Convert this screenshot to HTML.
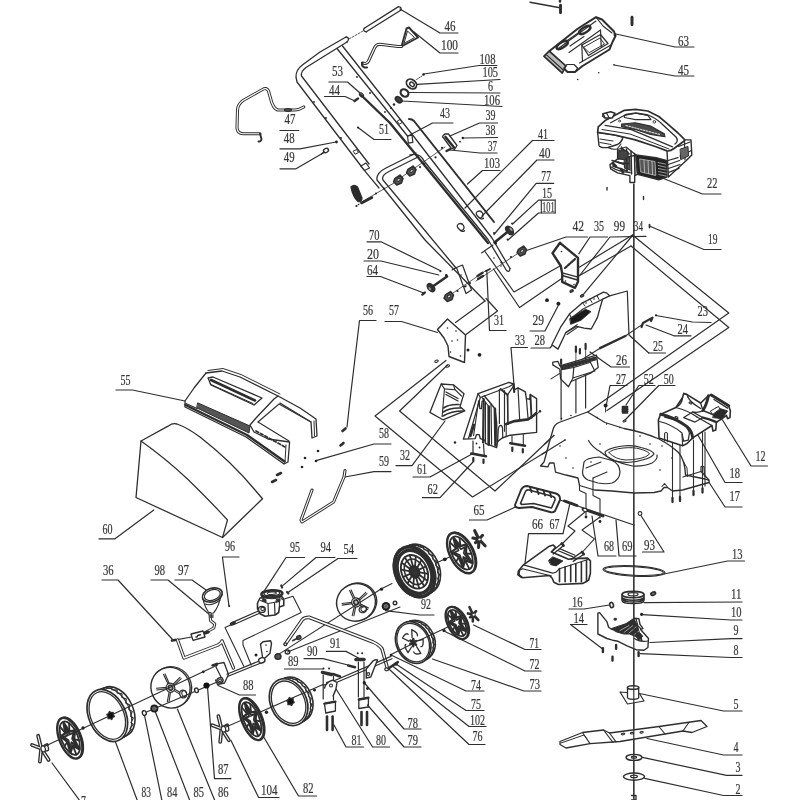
<!DOCTYPE html>
<html lang="en">
<head>
<meta charset="utf-8">
<title>Lawn mower exploded parts diagram</title>
<style>
html,body{margin:0;padding:0;background:#fff;}
body{width:800px;height:800px;overflow:hidden;}
svg{display:block;filter:blur(0.45px);}
svg text{font-family:"Liberation Serif",serif;font-size:14.8px;fill:#333;stroke:#333;stroke-width:0.2px;}
svg path,svg ellipse,svg circle{stroke-linecap:round;stroke-linejoin:round;}
</style>
</head>
<body>
<svg width="800" height="800" viewBox="0 0 800 800">
<rect x="0" y="0" width="800" height="800" fill="#ffffff"/>
<!-- parts_labels -->
<text x="444.5" y="30.5" textLength="11" lengthAdjust="spacingAndGlyphs">46</text>
<path d="M458,33 L440,33 L400,9" fill="none" stroke="#2e2e2e" stroke-width="1.2"/>
<text x="441" y="50" textLength="17" lengthAdjust="spacingAndGlyphs">100</text>
<path d="M458,53 L440,53 L414,32" fill="none" stroke="#2e2e2e" stroke-width="1.2"/>
<text x="479.5" y="64" textLength="16" lengthAdjust="spacingAndGlyphs">108</text>
<path d="M497,65.5 L479,65.5 L424,74" fill="none" stroke="#2e2e2e" stroke-width="1.2"/>
<text x="482.5" y="77" textLength="15.5" lengthAdjust="spacingAndGlyphs">105</text>
<path d="M500,79.5 L417,84.3" fill="none" stroke="#2e2e2e" stroke-width="1.2"/>
<text x="488" y="90.5" textLength="5" lengthAdjust="spacingAndGlyphs">6</text>
<path d="M500,93 L409,92.5" fill="none" stroke="#2e2e2e" stroke-width="1.2"/>
<text x="484" y="104.5" textLength="16" lengthAdjust="spacingAndGlyphs">106</text>
<path d="M502,106.5 L402,101" fill="none" stroke="#2e2e2e" stroke-width="1.2"/>
<text x="440" y="117.5" textLength="10" lengthAdjust="spacingAndGlyphs">43</text>
<path d="M453,123 L432.5,123 L408,136" fill="none" stroke="#2e2e2e" stroke-width="1.2"/>
<text x="485.5" y="120" textLength="10" lengthAdjust="spacingAndGlyphs">39</text>
<path d="M497.5,123 L479.5,123 L450,136" fill="none" stroke="#2e2e2e" stroke-width="1.2"/>
<text x="485.5" y="135" textLength="10" lengthAdjust="spacingAndGlyphs">38</text>
<path d="M497.5,137.5 L463,138" fill="none" stroke="#2e2e2e" stroke-width="1.2"/>
<text x="488" y="151" textLength="9" lengthAdjust="spacingAndGlyphs">37</text>
<path d="M497,153 L480,153 L450,150" fill="none" stroke="#2e2e2e" stroke-width="1.2"/>
<text x="484" y="168" textLength="16" lengthAdjust="spacingAndGlyphs">103</text>
<path d="M500,170.5 L482.5,170.5 L467.5,184" fill="none" stroke="#2e2e2e" stroke-width="1.2"/>
<text x="538" y="139" textLength="10" lengthAdjust="spacingAndGlyphs">41</text>
<path d="M554,140.5 L532.5,140.5 L465,208" fill="none" stroke="#2e2e2e" stroke-width="1.2"/>
<text x="539" y="158" textLength="11.5" lengthAdjust="spacingAndGlyphs">40</text>
<path d="M554,160 L537,160 L482,216" fill="none" stroke="#2e2e2e" stroke-width="1.2"/>
<text x="541.3" y="181" textLength="9.7" lengthAdjust="spacingAndGlyphs">77</text>
<path d="M553.7,183.3 L536.2,183.3 L494,234.5" fill="none" stroke="#2e2e2e" stroke-width="1.2"/>
<text x="541.9" y="198" textLength="10.1" lengthAdjust="spacingAndGlyphs">15</text>
<path d="M555.2,200.1 L538.5,200.1 L512.6,224" fill="none" stroke="#2e2e2e" stroke-width="1.2"/>
<text x="542" y="212.2" textLength="12.6" lengthAdjust="spacingAndGlyphs">101</text>
<path d="M555.2,213 L538.5,213 L508,240" fill="none" stroke="#2e2e2e" stroke-width="1.2"/>
<path d="M541.3,200.1 L541.3,213" fill="none" stroke="#2e2e2e" stroke-width="1.1"/>
<path d="M555.2,200.1 L555.2,213" fill="none" stroke="#2e2e2e" stroke-width="1.1"/>
<text x="678" y="46" textLength="11" lengthAdjust="spacingAndGlyphs">63</text>
<path d="M694,47 L675,47 L616,34" fill="none" stroke="#2e2e2e" stroke-width="1.2"/>
<text x="678" y="75" textLength="11" lengthAdjust="spacingAndGlyphs">45</text>
<path d="M694,76 L675,76 L614,65" fill="none" stroke="#2e2e2e" stroke-width="1.2"/>
<text x="707" y="187.5" textLength="10.5" lengthAdjust="spacingAndGlyphs">22</text>
<path d="M721,194 L702.5,194 L661,177.5" fill="none" stroke="#2e2e2e" stroke-width="1.2"/>
<text x="708" y="243.5" textLength="9.5" lengthAdjust="spacingAndGlyphs">19</text>
<path d="M721,249.5 L703.8,249.5 L649.5,226" fill="none" stroke="#2e2e2e" stroke-width="1.2"/>
<text x="572.5" y="230.5" textLength="11.5" lengthAdjust="spacingAndGlyphs">42</text>
<path d="M587.5,237 L566,237 L525,251" fill="none" stroke="#2e2e2e" stroke-width="1.2"/>
<text x="594" y="230.5" textLength="10" lengthAdjust="spacingAndGlyphs">35</text>
<path d="M607.5,237 L590,237 L578.8,253.8" fill="none" stroke="#2e2e2e" stroke-width="1.2"/>
<text x="613.8" y="230.5" textLength="11.2" lengthAdjust="spacingAndGlyphs">99</text>
<path d="M646,236.3 L610,237 L580,275" fill="none" stroke="#2e2e2e" stroke-width="1.2"/>
<text x="633.8" y="230.5" textLength="9.2" lengthAdjust="spacingAndGlyphs">34</text>
<path d="M632.5,235.5 L583.8,293.8" fill="none" stroke="#2e2e2e" stroke-width="1.2"/>
<text x="697.5" y="316" textLength="10.5" lengthAdjust="spacingAndGlyphs">23</text>
<path d="M711,322.5 L692.5,322 L656,315.5" fill="none" stroke="#2e2e2e" stroke-width="1.2"/>
<text x="677.5" y="333.5" textLength="10.5" lengthAdjust="spacingAndGlyphs">24</text>
<path d="M691,335.8 L673.8,335.8 L646,325" fill="none" stroke="#2e2e2e" stroke-width="1.2"/>
<text x="653" y="351" textLength="10" lengthAdjust="spacingAndGlyphs">25</text>
<path d="M665.5,353 L648.8,353" fill="none" stroke="#2e2e2e" stroke-width="1.2"/>
<text x="616" y="365" textLength="11" lengthAdjust="spacingAndGlyphs">26</text>
<path d="M629.5,367 L611,367 L590,352" fill="none" stroke="#2e2e2e" stroke-width="1.2"/>
<text x="616" y="383.5" textLength="10" lengthAdjust="spacingAndGlyphs">27</text>
<path d="M627,385.5 L610,385.5 L606.5,404" fill="none" stroke="#2e2e2e" stroke-width="1.2"/>
<text x="643.8" y="383.5" textLength="10" lengthAdjust="spacingAndGlyphs">52</text>
<path d="M655,385.5 L638.8,385.5 L626,405" fill="none" stroke="#2e2e2e" stroke-width="1.2"/>
<text x="663.8" y="383.5" textLength="10" lengthAdjust="spacingAndGlyphs">50</text>
<path d="M675,385.5 L658.8,385.5 L625,420" fill="none" stroke="#2e2e2e" stroke-width="1.2"/>
<text x="369" y="239.5" textLength="10.5" lengthAdjust="spacingAndGlyphs">70</text>
<path d="M367,241.8 L381,241.8 L441,271" fill="none" stroke="#2e2e2e" stroke-width="1.2"/>
<text x="367" y="258.8" textLength="12" lengthAdjust="spacingAndGlyphs">20</text>
<path d="M364,261 L381,261 L438.8,275" fill="none" stroke="#2e2e2e" stroke-width="1.2"/>
<text x="367" y="275" textLength="11" lengthAdjust="spacingAndGlyphs">64</text>
<path d="M367,276.5 L380.5,276.5 L423.8,293" fill="none" stroke="#2e2e2e" stroke-width="1.2"/>
<text x="363" y="315" textLength="10" lengthAdjust="spacingAndGlyphs">56</text>
<path d="M376,320.5 L359.5,320.5 L350,400 L347,427" fill="none" stroke="#2e2e2e" stroke-width="1.2"/>
<text x="389" y="315" textLength="10" lengthAdjust="spacingAndGlyphs">57</text>
<path d="M385,321.5 L401.5,321.5 L437.5,332.5" fill="none" stroke="#2e2e2e" stroke-width="1.2"/>
<text x="494" y="325" textLength="10" lengthAdjust="spacingAndGlyphs">31</text>
<path d="M506,330.5 L489.5,330.5 L486.8,271" fill="none" stroke="#2e2e2e" stroke-width="1.2"/>
<text x="532.5" y="325" textLength="11.5" lengthAdjust="spacingAndGlyphs">29</text>
<path d="M530,331 L545,331 L558,306" fill="none" stroke="#2e2e2e" stroke-width="1.2"/>
<text x="515" y="345" textLength="10" lengthAdjust="spacingAndGlyphs">33</text>
<path d="M527.5,347.5 L511,347.5 L514,385" fill="none" stroke="#2e2e2e" stroke-width="1.2"/>
<text x="534.5" y="345" textLength="10.5" lengthAdjust="spacingAndGlyphs">28</text>
<path d="M531,348 L550,348 L555,342" fill="none" stroke="#2e2e2e" stroke-width="1.2"/>
<text x="120.5" y="385" textLength="10" lengthAdjust="spacingAndGlyphs">55</text>
<path d="M116,390 L132.5,390 L185,401" fill="none" stroke="#2e2e2e" stroke-width="1.2"/>
<text x="102.5" y="533.8" textLength="10" lengthAdjust="spacingAndGlyphs">60</text>
<path d="M99,538.8 L115,538.8 L153.8,510" fill="none" stroke="#2e2e2e" stroke-width="1.2"/>
<text x="379" y="438" textLength="10" lengthAdjust="spacingAndGlyphs">58</text>
<path d="M391,444 L374,444 L316,460.6" fill="none" stroke="#2e2e2e" stroke-width="1.2"/>
<text x="379" y="466" textLength="10" lengthAdjust="spacingAndGlyphs">59</text>
<path d="M391,471.6 L374,471.6 L345,477" fill="none" stroke="#2e2e2e" stroke-width="1.2"/>
<text x="400" y="460" textLength="10" lengthAdjust="spacingAndGlyphs">32</text>
<path d="M396,465.6 L412,465.6 L445,421" fill="none" stroke="#2e2e2e" stroke-width="1.2"/>
<text x="417" y="474.4" textLength="10" lengthAdjust="spacingAndGlyphs">61</text>
<path d="M413,477 L430,477 L472.5,453.8" fill="none" stroke="#2e2e2e" stroke-width="1.2"/>
<text x="427.6" y="494" textLength="10.4" lengthAdjust="spacingAndGlyphs">62</text>
<path d="M422.4,497.6 L440,497.6 L472.5,462.5" fill="none" stroke="#2e2e2e" stroke-width="1.2"/>
<text x="290" y="551.5" textLength="10" lengthAdjust="spacingAndGlyphs">95</text>
<path d="M304.5,557.5 L286,557.5 L262.5,593.6" fill="none" stroke="#2e2e2e" stroke-width="1.2"/>
<text x="320.5" y="551.5" textLength="10.5" lengthAdjust="spacingAndGlyphs">94</text>
<path d="M335,557.5 L316,557.5 L283,585.4" fill="none" stroke="#2e2e2e" stroke-width="1.2"/>
<text x="343.6" y="554" textLength="10.4" lengthAdjust="spacingAndGlyphs">54</text>
<path d="M357,558.5 L338,558.5 L288.6,592" fill="none" stroke="#2e2e2e" stroke-width="1.2"/>
<text x="225" y="551" textLength="10" lengthAdjust="spacingAndGlyphs">96</text>
<path d="M239,557 L222.4,557 L229,606" fill="none" stroke="#2e2e2e" stroke-width="1.2"/>
<text x="103" y="575" textLength="10.6" lengthAdjust="spacingAndGlyphs">36</text>
<path d="M102,580 L118,580 L173,640" fill="none" stroke="#2e2e2e" stroke-width="1.2"/>
<text x="154.4" y="575" textLength="10.6" lengthAdjust="spacingAndGlyphs">98</text>
<path d="M151,580 L168,580 L210,615" fill="none" stroke="#2e2e2e" stroke-width="1.2"/>
<text x="178" y="575" textLength="11" lengthAdjust="spacingAndGlyphs">97</text>
<path d="M175,580 L192,580 L206,590" fill="none" stroke="#2e2e2e" stroke-width="1.2"/>
<text x="473.5" y="515" textLength="11" lengthAdjust="spacingAndGlyphs">65</text>
<path d="M469.4,520 L487,520 L516,506.8" fill="none" stroke="#2e2e2e" stroke-width="1.2"/>
<text x="532" y="529" textLength="11" lengthAdjust="spacingAndGlyphs">66</text>
<path d="M563,533.7 L528.5,533.7 L524.4,568.6" fill="none" stroke="#2e2e2e" stroke-width="1.2"/>
<text x="549.5" y="529" textLength="10" lengthAdjust="spacingAndGlyphs">67</text>
<path d="M563,533.7 L569.8,504" fill="none" stroke="#2e2e2e" stroke-width="1.2"/>
<text x="604" y="551" textLength="10" lengthAdjust="spacingAndGlyphs">68</text>
<path d="M616,556 L598,556 L592,516" fill="none" stroke="#2e2e2e" stroke-width="1.2"/>
<text x="622" y="551" textLength="10.5" lengthAdjust="spacingAndGlyphs">69</text>
<path d="M636,556 L619,556 L616,520" fill="none" stroke="#2e2e2e" stroke-width="1.2"/>
<text x="644" y="550" textLength="11" lengthAdjust="spacingAndGlyphs">93</text>
<path d="M642.5,552 L664,552 L640,514" fill="none" stroke="#2e2e2e" stroke-width="1.2"/>
<text x="732" y="559" textLength="10.5" lengthAdjust="spacingAndGlyphs">13</text>
<path d="M744.5,561 L727.5,561 L664,574" fill="none" stroke="#2e2e2e" stroke-width="1.2"/>
<text x="755.5" y="461" textLength="10" lengthAdjust="spacingAndGlyphs">12</text>
<path d="M767.5,466 L751,466 L722.5,420" fill="none" stroke="#2e2e2e" stroke-width="1.2"/>
<text x="729.5" y="477.5" textLength="10.5" lengthAdjust="spacingAndGlyphs">18</text>
<path d="M742,482.5 L725,482.5 L695,430" fill="none" stroke="#2e2e2e" stroke-width="1.2"/>
<text x="729.5" y="501" textLength="10.5" lengthAdjust="spacingAndGlyphs">17</text>
<path d="M742,507 L725,507 L707.5,480" fill="none" stroke="#2e2e2e" stroke-width="1.2"/>
<text x="731" y="599" textLength="10.5" lengthAdjust="spacingAndGlyphs">11</text>
<path d="M742,602 L644,602.6" fill="none" stroke="#2e2e2e" stroke-width="1.2"/>
<text x="731" y="617" textLength="10.5" lengthAdjust="spacingAndGlyphs">10</text>
<path d="M742,620 L731,620 L642.5,614.6" fill="none" stroke="#2e2e2e" stroke-width="1.2"/>
<text x="733.5" y="635" textLength="5" lengthAdjust="spacingAndGlyphs">9</text>
<path d="M742,638.6 L731,638.6 L650,642.5" fill="none" stroke="#2e2e2e" stroke-width="1.2"/>
<text x="733.5" y="654.5" textLength="5" lengthAdjust="spacingAndGlyphs">8</text>
<path d="M742,657.5 L731,657.5 L640.4,653.6" fill="none" stroke="#2e2e2e" stroke-width="1.2"/>
<text x="733.5" y="708.5" textLength="5" lengthAdjust="spacingAndGlyphs">5</text>
<path d="M742,711 L723.5,711 L639.5,693.5" fill="none" stroke="#2e2e2e" stroke-width="1.2"/>
<text x="733.5" y="752" textLength="5" lengthAdjust="spacingAndGlyphs">4</text>
<path d="M742,755 L723.5,755 L647,738.5" fill="none" stroke="#2e2e2e" stroke-width="1.2"/>
<text x="735.5" y="771.5" textLength="5" lengthAdjust="spacingAndGlyphs">3</text>
<path d="M742,775.4 L726.5,775.4 L642.5,757.4" fill="none" stroke="#2e2e2e" stroke-width="1.2"/>
<text x="735.5" y="794" textLength="5" lengthAdjust="spacingAndGlyphs">2</text>
<path d="M742,795.5 L723.5,795.5 L644.6,778.4" fill="none" stroke="#2e2e2e" stroke-width="1.2"/>
<text x="572" y="607.4" textLength="10.5" lengthAdjust="spacingAndGlyphs">16</text>
<path d="M569,609 L584,609 L609.5,605" fill="none" stroke="#2e2e2e" stroke-width="1.2"/>
<text x="573.5" y="623" textLength="10.5" lengthAdjust="spacingAndGlyphs">14</text>
<path d="M587,624.5 L570.5,624.5 L602,648.5" fill="none" stroke="#2e2e2e" stroke-width="1.2"/>
<text x="421" y="609" textLength="10" lengthAdjust="spacingAndGlyphs">92</text>
<path d="M434,615 L420,615 L385.5,610.7" fill="none" stroke="#2e2e2e" stroke-width="1.2"/>
<text x="529.5" y="647.5" textLength="9.5" lengthAdjust="spacingAndGlyphs">71</text>
<path d="M541,649.5 L525,649.5 L473.5,625" fill="none" stroke="#2e2e2e" stroke-width="1.2"/>
<text x="529.5" y="669" textLength="10" lengthAdjust="spacingAndGlyphs">72</text>
<path d="M541,671 L525,671 L444,631" fill="none" stroke="#2e2e2e" stroke-width="1.2"/>
<text x="529.5" y="689" textLength="10.5" lengthAdjust="spacingAndGlyphs">73</text>
<path d="M541,691 L524,691 L432.5,659" fill="none" stroke="#2e2e2e" stroke-width="1.2"/>
<text x="471" y="690" textLength="10" lengthAdjust="spacingAndGlyphs">74</text>
<path d="M484,691 L466,691 L391,655" fill="none" stroke="#2e2e2e" stroke-width="1.2"/>
<text x="471" y="709" textLength="10" lengthAdjust="spacingAndGlyphs">75</text>
<path d="M484,710.5 L466,710.5 L396,664" fill="none" stroke="#2e2e2e" stroke-width="1.2"/>
<text x="470" y="725" textLength="15" lengthAdjust="spacingAndGlyphs">102</text>
<path d="M486,726.5 L469,726.5 L392.5,666" fill="none" stroke="#2e2e2e" stroke-width="1.2"/>
<text x="472.5" y="741" textLength="10" lengthAdjust="spacingAndGlyphs">76</text>
<path d="M485,744.5 L469,744.5 L389,669" fill="none" stroke="#2e2e2e" stroke-width="1.2"/>
<text x="407.5" y="727.5" textLength="10.5" lengthAdjust="spacingAndGlyphs">78</text>
<path d="M421,729 L404,729 L364,682.5" fill="none" stroke="#2e2e2e" stroke-width="1.2"/>
<text x="407.5" y="745" textLength="10.5" lengthAdjust="spacingAndGlyphs">79</text>
<path d="M421,747 L404,747 L367.5,705" fill="none" stroke="#2e2e2e" stroke-width="1.2"/>
<text x="376" y="745" textLength="10" lengthAdjust="spacingAndGlyphs">80</text>
<path d="M389.5,747 L372.6,747 L334,685.8" fill="none" stroke="#2e2e2e" stroke-width="1.2"/>
<text x="351.5" y="745" textLength="10" lengthAdjust="spacingAndGlyphs">81</text>
<path d="M363.6,747 L346,747 L334,725" fill="none" stroke="#2e2e2e" stroke-width="1.2"/>
<text x="330" y="648" textLength="10.5" lengthAdjust="spacingAndGlyphs">91</text>
<path d="M326.5,651.4 L346,651.4 L358.5,658" fill="none" stroke="#2e2e2e" stroke-width="1.2"/>
<text x="307" y="655.5" textLength="10.5" lengthAdjust="spacingAndGlyphs">90</text>
<path d="M304,658.7 L323,658.7 L348,665" fill="none" stroke="#2e2e2e" stroke-width="1.2"/>
<text x="288" y="666" textLength="10.5" lengthAdjust="spacingAndGlyphs">89</text>
<path d="M284.5,669 L304,669 L323,669" fill="none" stroke="#2e2e2e" stroke-width="1.2"/>
<text x="243" y="690" textLength="10.5" lengthAdjust="spacingAndGlyphs">88</text>
<path d="M255.5,695 L239.5,695 L218,685.5" fill="none" stroke="#2e2e2e" stroke-width="1.2"/>
<text x="218" y="773.5" textLength="10.6" lengthAdjust="spacingAndGlyphs">87</text>
<path d="M231,778.6 L214.5,778.6 L207.6,688" fill="none" stroke="#2e2e2e" stroke-width="1.2"/>
<text x="218" y="796.5" textLength="10.6" lengthAdjust="spacingAndGlyphs">86</text>
<path d="M232,801 L215,801 L177.4,709" fill="none" stroke="#2e2e2e" stroke-width="1.2"/>
<text x="193.5" y="796.5" textLength="10.5" lengthAdjust="spacingAndGlyphs">85</text>
<path d="M190,801 L155.4,712" fill="none" stroke="#2e2e2e" stroke-width="1.2"/>
<text x="167" y="796.5" textLength="10.4" lengthAdjust="spacingAndGlyphs">84</text>
<path d="M162,801 L144.4,714.8" fill="none" stroke="#2e2e2e" stroke-width="1.2"/>
<text x="141.6" y="796.5" textLength="9.4" lengthAdjust="spacingAndGlyphs">83</text>
<path d="M137.5,801 L115.5,742" fill="none" stroke="#2e2e2e" stroke-width="1.2"/>
<text x="81" y="806" textLength="5" lengthAdjust="spacingAndGlyphs">7</text>
<path d="M80,801 L52,763" fill="none" stroke="#2e2e2e" stroke-width="1.2"/>
<text x="261" y="794.5" textLength="16.5" lengthAdjust="spacingAndGlyphs">104</text>
<path d="M279,797.5 L258.6,797.5 L231,740.5" fill="none" stroke="#2e2e2e" stroke-width="1.2"/>
<text x="303" y="793" textLength="10.5" lengthAdjust="spacingAndGlyphs">82</text>
<path d="M316.5,796 L298.5,796 L264,737.5" fill="none" stroke="#2e2e2e" stroke-width="1.2"/>
<text x="284.5" y="124" textLength="11" lengthAdjust="spacingAndGlyphs">47</text>
<path d="M280,130.5 L298.8,130.5" fill="none" stroke="#2e2e2e" stroke-width="1.2"/>
<text x="283.8" y="143" textLength="10.8" lengthAdjust="spacingAndGlyphs">48</text>
<path d="M280,148.8 L300,148.8 L336,142" fill="none" stroke="#2e2e2e" stroke-width="1.2"/>
<text x="283.8" y="162" textLength="10.8" lengthAdjust="spacingAndGlyphs">49</text>
<path d="M280,168.8 L296,168.8 L324,152.5" fill="none" stroke="#2e2e2e" stroke-width="1.2"/>
<text x="332" y="76" textLength="11" lengthAdjust="spacingAndGlyphs">53</text>
<path d="M329,82 L347.5,82 L360,93" fill="none" stroke="#2e2e2e" stroke-width="1.2"/>
<text x="329" y="95" textLength="11" lengthAdjust="spacingAndGlyphs">44</text>
<path d="M324.5,96.5 L345,96.5 L355,101" fill="none" stroke="#2e2e2e" stroke-width="1.2"/>
<text x="379" y="134" textLength="10" lengthAdjust="spacingAndGlyphs">51</text>
<path d="M391,139.5 L374,139.5 L358,127.5" fill="none" stroke="#2e2e2e" stroke-width="1.2"/>
<!-- parts_handle -->
<path d="M346,37 L320,52 L303,64.5 Q295.5,70 296,77 L297,82 L361,166" fill="none" stroke="#2e2e2e" stroke-width="1.3"/>
<path d="M347,42 L306,67.5 Q300.5,71.5 301.5,76 L369,164" fill="none" stroke="#2e2e2e" stroke-width="1.3"/>
<path d="M346,37 Q350.5,38 347,42" fill="none" stroke="#2e2e2e" stroke-width="1.3"/>
<path d="M361,166 L366,163 L369.5,168 L364.5,170.5Z" fill="none" stroke="#2e2e2e" stroke-width="1.2"/>
<path d="M353.5,151 L356.5,149.5 L358.5,152.5 L355.5,154Z" fill="none" stroke="#2e2e2e" stroke-width="1"/>
<path d="M360.8,166.2 L379,188" fill="none" stroke="#2e2e2e" stroke-width="1.2"/>
<path d="M337,48.5 L407.5,136" fill="none" stroke="#2e2e2e" stroke-width="1.3"/>
<path d="M342.5,46 L413,135.5 L492,238 L510,268.5" fill="none" stroke="#2e2e2e" stroke-width="1.3"/>
<path d="M407.5,136 L412,135.2 L412.9,142.4 L408.4,143.2Z" fill="none" stroke="#2e2e2e" stroke-width="1.2"/>
<path d="M397.5,121 L400,119.5 L402.2,122.5 L399.7,124Z" fill="none" stroke="#2e2e2e" stroke-width="1"/>
<circle cx="314" cy="102" r="0.9" fill="#222" stroke="#2e2e2e" stroke-width="0"/>
<circle cx="326" cy="118" r="0.9" fill="#222" stroke="#2e2e2e" stroke-width="0"/>
<circle cx="341" cy="138" r="0.9" fill="#222" stroke="#2e2e2e" stroke-width="0"/>
<circle cx="357" cy="77" r="0.9" fill="#222" stroke="#2e2e2e" stroke-width="0"/>
<circle cx="370" cy="93" r="0.9" fill="#222" stroke="#2e2e2e" stroke-width="0"/>
<circle cx="385" cy="112" r="0.9" fill="#222" stroke="#2e2e2e" stroke-width="0"/>
<path d="M364.3,28.2 L398.5,6.6 M366.3,31.8 L400.7,10.2" fill="none" stroke="#2e2e2e" stroke-width="1.3"/>
<path d="M364.3,28.2 Q362.3,31 366.3,31.8 M398.5,6.6 Q402,7 400.7,10.2" fill="none" stroke="#2e2e2e" stroke-width="1.3"/>
<path d="M349,39 L363,31" fill="none" stroke="#2e2e2e" stroke-width="0.8" stroke-dasharray="2 1.5"/>
<path d="M361,95 L390,123 L488,243" fill="none" stroke="#2e2e2e" stroke-width="2.4"/>
<ellipse cx="361.5" cy="95" rx="2.4" ry="1.5" fill="none" stroke="#2e2e2e" stroke-width="1.2" transform="rotate(45 361.5 95)"/>
<path d="M409,119 Q412,119 414,121 L494,222" fill="none" stroke="#2e2e2e" stroke-width="2"/>
<path d="M416,153 L386,168 Q376,173 377,180 L425,240 L485,301" fill="none" stroke="#2e2e2e" stroke-width="1.3"/>
<path d="M418,157 L389,171.5 Q381,175.5 383,180 L456,268" fill="none" stroke="#2e2e2e" stroke-width="1.3"/>
<path d="M410,155 Q420,152.5 424,161 L488,239.5 L506.5,270.5 Q509.5,273 510,268.5" fill="none" stroke="#2e2e2e" stroke-width="1.3"/>
<path d="M456.5,267.5 L462.5,265 L471.5,290 L466,293.5Z" fill="none" stroke="#2e2e2e" stroke-width="1.2"/>
<circle cx="494" cy="258" r="0.8" fill="#222" stroke="#2e2e2e" stroke-width="0"/>
<circle cx="501" cy="266" r="0.8" fill="#222" stroke="#2e2e2e" stroke-width="0"/>
<circle cx="461" cy="275" r="0.8" fill="#222" stroke="#2e2e2e" stroke-width="0"/>
<circle cx="466" cy="286" r="0.8" fill="#222" stroke="#2e2e2e" stroke-width="0"/>
<path d="M493,245 L481.5,253" fill="none" stroke="#2e2e2e" stroke-width="1.1"/>
<path d="M456.5,267.5 L452,270" fill="none" stroke="#2e2e2e" stroke-width="1.1"/>
<path d="M303.75,107 Q299,110 295,110 L277.5,110 Q273,108 271,100 L268.5,91 Q266.5,87 262.5,89.5 L243,100.5 Q238,104 237.5,110 L237,128 Q237.5,133.5 243,133.75 L260,133.75" fill="none" stroke="#2e2e2e" stroke-width="3.1"/>
<path d="M303.75,107 Q299,110 295,110 L277.5,110 Q273,108 271,100 L268.5,91 Q266.5,87 262.5,89.5 L243,100.5 Q238,104 237.5,110 L237,128 Q237.5,133.5 243,133.75 L260,133.75" fill="none" stroke="#fff" stroke-width="1.2"/>
<path d="M260,133.75 L261.5,139 Q261,142 258.5,141.5" fill="none" stroke="#2e2e2e" stroke-width="1.9"/>
<ellipse cx="288" cy="110" rx="3.5" ry="1.3" fill="#555" stroke="#2e2e2e" stroke-width="1.2"/>
<circle cx="336.5" cy="142" r="1.4" fill="#222" stroke="#2e2e2e" stroke-width="0"/>
<ellipse cx="326" cy="150.5" rx="2.6" ry="2" fill="none" stroke="#2e2e2e" stroke-width="1.4" transform="rotate(-30 326 150.5)"/>
<path d="M324,152 L321.5,154" fill="none" stroke="#2e2e2e" stroke-width="1.4"/>
<path d="M354.5,101 L358,98.5" fill="none" stroke="#2e2e2e" stroke-width="2.4"/>
<circle cx="358" cy="127.5" r="1.1" fill="#222" stroke="#2e2e2e" stroke-width="0"/>
<path d="M401.5,46.5 L406.5,28.5 L409,27.5 L418,37.5 L401.5,46.5" fill="none" stroke="#2e2e2e" stroke-width="1.9"/>
<path d="M404,43.5 L407.5,31 L414.5,37.5 L404,43.5" fill="none" stroke="#2e2e2e" stroke-width="1"/>
<path d="M401.5,46.5 L398,46.5 L380,44.3 Q376,44.3 374.5,48 L368.5,61 Q367.5,63.5 365,63.5 L362.5,63" fill="none" stroke="#2e2e2e" stroke-width="3.1"/>
<path d="M401.5,46.5 L398,46.5 L380,44.3 Q376,44.3 374.5,48 L368.5,61 Q367.5,63.5 365,63.5 L362.5,63" fill="none" stroke="#fff" stroke-width="1.1"/>
<path d="M362.5,63 Q361,66 364.5,67.5 L367,67.5" fill="none" stroke="#2e2e2e" stroke-width="2.2"/>
<circle cx="423.5" cy="74.5" r="1.3" fill="#222" stroke="#2e2e2e" stroke-width="0"/>
<ellipse cx="411.5" cy="84" rx="5.6" ry="4.2" fill="#fff" stroke="#2e2e2e" stroke-width="1.8" transform="rotate(40 411.5 84)"/>
<ellipse cx="412" cy="84.4" rx="2.6" ry="1.8" fill="none" stroke="#2e2e2e" stroke-width="1.4" transform="rotate(40 412 84.4)"/>
<ellipse cx="404.5" cy="93" rx="4.2" ry="3.4" fill="none" stroke="#2e2e2e" stroke-width="2.2" transform="rotate(40 404.5 93)"/>
<ellipse cx="398.7" cy="99.7" rx="3.6" ry="2.3" fill="#444" stroke="#2e2e2e" stroke-width="1.9" transform="rotate(40 398.7 99.7)"/>
<circle cx="394" cy="104.5" r="1.2" fill="#222" stroke="#2e2e2e" stroke-width="0"/>
<circle cx="391" cy="108" r="1" fill="#222" stroke="#2e2e2e" stroke-width="0"/>
<path d="M416.5,79.5 L422,76" fill="none" stroke="#2e2e2e" stroke-width="0.8" stroke-dasharray="1.5 1"/>
<path d="M442.5,136.5 L445,133.8 L448.5,134 L457,145.5 L454.5,149.5 L451,148Z" fill="none" stroke="#2e2e2e" stroke-width="1.3"/>
<path d="M445.5,137 L454,147.5" fill="none" stroke="#2e2e2e" stroke-width="2.6"/>
<circle cx="462.8" cy="138" r="1.2" fill="#222" stroke="#2e2e2e" stroke-width="0"/>
<circle cx="460" cy="141.7" r="0.9" fill="#222" stroke="#2e2e2e" stroke-width="0"/>
<path d="M446.5,151 L450.5,149" fill="none" stroke="#2e2e2e" stroke-width="2.4"/>
<path d="M445,147 L396,181" fill="none" stroke="#2e2e2e" stroke-width="0.8"/>
<circle cx="442" cy="147.8" r="1.1" fill="#222" stroke="#2e2e2e" stroke-width="0"/>
<circle cx="435.5" cy="157.3" r="1.1" fill="#222" stroke="#2e2e2e" stroke-width="0"/>
<circle cx="424" cy="164.2" r="1.1" fill="#222" stroke="#2e2e2e" stroke-width="0"/>
<circle cx="420" cy="167" r="1.1" fill="#222" stroke="#2e2e2e" stroke-width="0"/>
<path d="M408,169.3 l5,-3.2 l3,3.4 l-1.6,4.4 l-4.6,2 l-3.2,-3.2Z" fill="#555" stroke="#2e2e2e" stroke-width="1.6"/>
<ellipse cx="411.6" cy="170.9" rx="1.8" ry="1.3" fill="#ddd" stroke="#2e2e2e" stroke-width="1" transform="rotate(-30 411.6 170.9)"/>
<path d="M395,178.3 l5,-3.2 l3,3.4 l-1.6,4.4 l-4.6,2 l-3.2,-3.2Z" fill="#555" stroke="#2e2e2e" stroke-width="1.6"/>
<ellipse cx="398.6" cy="179.9" rx="1.8" ry="1.3" fill="#ddd" stroke="#2e2e2e" stroke-width="1" transform="rotate(-30 398.6 179.9)"/>
<path d="M394,183 L360,203" fill="none" stroke="#2e2e2e" stroke-width="0.8"/>
<circle cx="384" cy="188.5" r="1" fill="#222" stroke="#2e2e2e" stroke-width="0"/>
<circle cx="376" cy="193.5" r="1" fill="#222" stroke="#2e2e2e" stroke-width="0"/>
<path d="M361.5,203 L372,197.5" fill="none" stroke="#2e2e2e" stroke-width="2.6"/>
<path d="M351,187 Q354,184 357.5,187 L362,198 Q362,202 358,201.5 Q353,197 351,187Z" fill="#2a2a2a" stroke="#2e2e2e" stroke-width="1.3"/>
<path d="M353,188.5 L359.5,199.5" fill="none" stroke="#2e2e2e" stroke-width="2.2"/>
<circle cx="356.5" cy="206" r="1.1" fill="#222" stroke="#2e2e2e" stroke-width="0"/>
<circle cx="358.5" cy="204.5" r="0.8" fill="#222" stroke="#2e2e2e" stroke-width="0"/>
<path d="M478.5,217.0 q-4,-3.5 -1,-5.5 q3,-1.5 5,1.5 q1.5,3 -1,4.5 q-2,0.8 -3,-0.5 q3,3.2 5,1.2" fill="none" stroke="#2e2e2e" stroke-width="1.3"/>
<path d="M459.5,229.5 q-4,-3.5 -1,-5.5 q3,-1.5 5,1.5 q1.5,3 -1,4.5 q-2,0.8 -3,-0.5 q3,3.2 5,1.2" fill="none" stroke="#2e2e2e" stroke-width="1.3"/>
<path d="M494.5,242.5 L508,231.5" fill="none" stroke="#2e2e2e" stroke-width="2.6"/>
<ellipse cx="509.5" cy="230.5" rx="4.8" ry="2.8" fill="#333" stroke="#2e2e2e" stroke-width="1.4" transform="rotate(50 509.5 230.5)"/>
<ellipse cx="511" cy="229.3" rx="2.6" ry="1.6" fill="#999" stroke="#2e2e2e" stroke-width="1" transform="rotate(50 511 229.3)"/>
<circle cx="494" cy="233" r="1" fill="#222" stroke="#2e2e2e" stroke-width="0"/>
<circle cx="512" cy="223.5" r="0.9" fill="#222" stroke="#2e2e2e" stroke-width="0"/>
<circle cx="507.5" cy="239.5" r="0.9" fill="#222" stroke="#2e2e2e" stroke-width="0"/>
<circle cx="495.5" cy="243" r="1.5" fill="#222" stroke="#2e2e2e" stroke-width="0"/>
<path d="M518.5,249.3 l5,-3.2 l3,3.4 l-1.6,4.4 l-4.6,2 l-3.2,-3.2Z" fill="#555" stroke="#2e2e2e" stroke-width="1.6"/>
<ellipse cx="522.1" cy="250.9" rx="1.8" ry="1.3" fill="#ddd" stroke="#2e2e2e" stroke-width="1" transform="rotate(-30 522.1 250.9)"/>
<path d="M517,254 L476,281" fill="none" stroke="#2e2e2e" stroke-width="0.8"/>
<circle cx="511" cy="257" r="1.1" fill="#222" stroke="#2e2e2e" stroke-width="0"/>
<circle cx="501.5" cy="262.5" r="1.1" fill="#222" stroke="#2e2e2e" stroke-width="0"/>
<circle cx="470" cy="283" r="1.1" fill="#222" stroke="#2e2e2e" stroke-width="0"/>
<circle cx="465" cy="286.5" r="1.1" fill="#222" stroke="#2e2e2e" stroke-width="0"/>
<path d="M478,279 L483,276" fill="none" stroke="#2e2e2e" stroke-width="2.4"/>
<path d="M486,271 L490,269" fill="none" stroke="#2e2e2e" stroke-width="1.9"/>
<path d="M432,287 L447,276.5" fill="none" stroke="#2e2e2e" stroke-width="2.6"/>
<ellipse cx="431" cy="287.6" rx="4.6" ry="2.8" fill="#333" stroke="#2e2e2e" stroke-width="1.4" transform="rotate(50 431 287.6)"/>
<ellipse cx="429.8" cy="288.6" rx="2.4" ry="1.5" fill="#999" stroke="#2e2e2e" stroke-width="1" transform="rotate(50 429.8 288.6)"/>
<circle cx="440.3" cy="271.3" r="0.9" fill="#222" stroke="#2e2e2e" stroke-width="0"/>
<circle cx="446.3" cy="275.2" r="1.3" fill="#222" stroke="#2e2e2e" stroke-width="0"/>
<circle cx="425.3" cy="292.3" r="0.7" fill="#222" stroke="#2e2e2e" stroke-width="0"/>
<path d="M422.3,294.6 L424.6,292.8" fill="none" stroke="#2e2e2e" stroke-width="2.4"/>
<path d="M445.5,294.8 l5,-3.2 l3,3.4 l-1.6,4.4 l-4.6,2 l-3.2,-3.2Z" fill="#555" stroke="#2e2e2e" stroke-width="1.6"/>
<ellipse cx="449.1" cy="296.4" rx="1.8" ry="1.3" fill="#ddd" stroke="#2e2e2e" stroke-width="1" transform="rotate(-30 449.1 296.4)"/>
<path d="M453,293 L486,270.5" fill="none" stroke="#2e2e2e" stroke-width="0.8"/>
<circle cx="457.5" cy="291" r="1.1" fill="#222" stroke="#2e2e2e" stroke-width="0"/>
<path d="M477.5,276 L482.5,272.7" fill="none" stroke="#2e2e2e" stroke-width="2.4"/>
<!-- parts_mid -->
<path d="M632.5,235 L728.8,313 L587.8,412" fill="none" stroke="#2e2e2e" stroke-width="1.2"/>
<path d="M565,440 L472.5,497 L375,416 L446,360.5" fill="none" stroke="#2e2e2e" stroke-width="1.2"/>
<path d="M455.5,322.5 L485,301" fill="none" stroke="#2e2e2e" stroke-width="1.2"/>
<path d="M493.5,269 L519.5,307.5 L561,279" fill="none" stroke="#2e2e2e" stroke-width="1.2"/>
<path d="M578.8,267.5 L632.5,235" fill="none" stroke="#2e2e2e" stroke-width="1.2"/>
<path d="M631,246 L728.8,327.5 L607,410.5" fill="none" stroke="#2e2e2e" stroke-width="1.2"/>
<path d="M553.8,435.5 L495,491 L399.6,411 L447.5,365" fill="none" stroke="#2e2e2e" stroke-width="1.2"/>
<path d="M466,334.5 L497.5,311 L486,298.5" fill="none" stroke="#2e2e2e" stroke-width="1.2"/>
<path d="M485,251.5 L514,292 L560,266" fill="none" stroke="#2e2e2e" stroke-width="1.2"/>
<path d="M578.8,276 L631,246" fill="none" stroke="#2e2e2e" stroke-width="1.2"/>
<path d="M633.8,184 L633.8,800" fill="none" stroke="#333" stroke-width="1.2"/>
<path d="M437.5,329.5 L447.5,319 L465.5,335 L464.5,362.5 L449,356.5 L448,346 L444,338Z" fill="#fff" stroke="#2e2e2e" stroke-width="1.4"/>
<circle cx="447.5" cy="328" r="0.8" fill="#222" stroke="#2e2e2e" stroke-width="0"/>
<circle cx="456" cy="331" r="0.8" fill="#222" stroke="#2e2e2e" stroke-width="0"/>
<circle cx="452" cy="341" r="0.8" fill="#222" stroke="#2e2e2e" stroke-width="0"/>
<circle cx="457.5" cy="340" r="0.8" fill="#222" stroke="#2e2e2e" stroke-width="0"/>
<circle cx="450.5" cy="352" r="0.8" fill="#222" stroke="#2e2e2e" stroke-width="0"/>
<circle cx="460.5" cy="356" r="0.8" fill="#222" stroke="#2e2e2e" stroke-width="0"/>
<circle cx="468" cy="350" r="1.5" fill="#222" stroke="#2e2e2e" stroke-width="0"/>
<circle cx="479.5" cy="354.8" r="1.9" fill="#222" stroke="#2e2e2e" stroke-width="0"/>
<ellipse cx="436.5" cy="361.3" rx="1.8" ry="1.1" fill="none" stroke="#2e2e2e" stroke-width="1.1" transform="rotate(-20 436.5 361.3)"/>
<ellipse cx="447.8" cy="366" rx="1.8" ry="1.1" fill="none" stroke="#2e2e2e" stroke-width="1.1" transform="rotate(-20 447.8 366)"/>
<path d="M552.5,253.2 L560,242.8 L578,257.8 L578,281.8 L575,287.8 L562.2,281.8 L562.2,273.5 L560.8,266Z" fill="#fff" stroke="#2e2e2e" stroke-width="2.4"/>
<path d="M562.2,272.8 L578,277.2" fill="none" stroke="#2e2e2e" stroke-width="1.4"/>
<path d="M562.2,275.5 L577.5,280" fill="none" stroke="#2e2e2e" stroke-width="1.4"/>
<path d="M565,268 L575,259" fill="none" stroke="#2e2e2e" stroke-width="2.2" stroke-dasharray="2.5 1.2"/>
<circle cx="561.5" cy="251.5" r="0.8" fill="#222" stroke="#2e2e2e" stroke-width="0"/>
<circle cx="565.5" cy="281" r="0.8" fill="#222" stroke="#2e2e2e" stroke-width="0"/>
<circle cx="574" cy="284.5" r="0.8" fill="#222" stroke="#2e2e2e" stroke-width="0"/>
<circle cx="547" cy="300.2" r="1.9" fill="#222" stroke="#2e2e2e" stroke-width="0"/>
<circle cx="558.4" cy="303.8" r="2" fill="#222" stroke="#2e2e2e" stroke-width="0"/>
<ellipse cx="571.6" cy="291" rx="1.8" ry="1.1" fill="#555" stroke="#2e2e2e" stroke-width="1.2" transform="rotate(-25 571.6 291)"/>
<ellipse cx="582.1" cy="295.8" rx="1.8" ry="1.1" fill="#555" stroke="#2e2e2e" stroke-width="1.2" transform="rotate(-25 582.1 295.8)"/>
<path d="M551.9,344.8 L560.6,327.2 L569.4,314.1 L582.5,302.8 L603.5,292.2 L607,293.1 L609.6,295.8 L602.6,299.2 L600,308 L597.4,317.6 L591.2,329 L584.2,328.1 L576.4,326.4 L565.9,332.5 L558,349.1Z" fill="#fff" stroke="#2e2e2e" stroke-width="1.3"/>
<path d="M570,318.3 L585.5,309.3 L591,311.6 L581,320.2 L571,324.2Z" fill="#1a1a1a" stroke="#2e2e2e" stroke-width="1"/>
<path d="M569.4,314.1 L571.5,318 L583,309 L602.6,299.2" fill="none" stroke="#2e2e2e" stroke-width="1.1"/>
<path d="M565.9,332.5 L577.2,324.6" fill="none" stroke="#2e2e2e" stroke-width="1.1"/>
<path d="M567,334.5 L578.5,326.6" fill="none" stroke="#2e2e2e" stroke-width="1.1"/>
<path d="M582.5,302.8 L585,306" fill="none" stroke="#2e2e2e" stroke-width="1"/>
<path d="M590,299 L592,302.5" fill="none" stroke="#2e2e2e" stroke-width="1"/>
<path d="M597,295.5 L599,299.5" fill="none" stroke="#2e2e2e" stroke-width="1"/>
<circle cx="586" cy="303" r="0.8" fill="#222" stroke="#2e2e2e" stroke-width="0"/>
<circle cx="594" cy="299" r="0.8" fill="#222" stroke="#2e2e2e" stroke-width="0"/>
<path d="M609.6,295.8 L627.3,291 L629,335 L648.8,353" fill="none" stroke="#2e2e2e" stroke-width="1.2"/>
<path d="M551,378.9 L600,348.2" fill="none" stroke="#2e2e2e" stroke-width="1.1"/>
<path d="M600,348.2 L625.4,336" fill="none" stroke="#2e2e2e" stroke-width="2.4"/>
<path d="M625.4,336 L642,324.6" fill="none" stroke="#2e2e2e" stroke-width="1.1"/>
<path d="M641.5,327 L643,323 L652.5,317.6 L651,321" fill="none" stroke="#2e2e2e" stroke-width="2.2"/>
<circle cx="656" cy="315.3" r="1.1" fill="#222" stroke="#2e2e2e" stroke-width="0"/>
<path d="M552.8,362.2 L558,361.4 L559.8,365.8 L596.5,355.2 L598.2,367.5 L591.2,372.8 L571.1,381.5 L568.5,386.8 L560.6,378.9 L559.8,369.2 L552.8,364.9Z" fill="#fff" stroke="#2e2e2e" stroke-width="1.3"/>
<path d="M560.6,366.6 L595.6,357 L596.1,359.6 L561.5,369.6Z" fill="#333" stroke="#2e2e2e" stroke-width="1.2"/>
<path d="M573.8,367.5 L590.4,362.2 L594.8,371 L572.9,378Z" fill="none" stroke="#2e2e2e" stroke-width="1.2"/>
<path d="M572.9,378 L571.1,381.5" fill="none" stroke="#2e2e2e" stroke-width="1.1"/>
<path d="M561.5,369.6 L573.8,367.5" fill="none" stroke="#2e2e2e" stroke-width="1.1"/>
<path d="M561.1,359.6 L561.1,364" fill="none" stroke="#2e2e2e" stroke-width="2.2"/>
<path d="M575.9,346.5 L575.9,351.8" fill="none" stroke="#2e2e2e" stroke-width="2.2"/>
<path d="M579.9,349 L579.9,353.5" fill="none" stroke="#2e2e2e" stroke-width="2.2"/>
<path d="M585.6,343.9 L585.6,349" fill="none" stroke="#2e2e2e" stroke-width="2.2"/>
<path d="M561.1,370 L561.1,420" fill="none" stroke="#2e2e2e" stroke-width="1.2"/>
<path d="M575.9,380 L575.9,413" fill="none" stroke="#2e2e2e" stroke-width="1.2"/>
<path d="M585.6,374.5 L585.6,408" fill="none" stroke="#2e2e2e" stroke-width="1.2"/>
<path d="M575.9,352 L575.9,366" fill="none" stroke="#2e2e2e" stroke-width="0.8"/>
<path d="M585.6,349 L585.6,362" fill="none" stroke="#2e2e2e" stroke-width="0.8"/>
<circle cx="605.6" cy="405.6" r="2" fill="#222" stroke="#2e2e2e" stroke-width="0"/>
<path d="M605.6,407 L605.6,412" fill="none" stroke="#2e2e2e" stroke-width="1"/>
<path d="M622.5,406.5 h5 M622.3,408 h5.4 M622.3,409.6 h5.4 M622.3,411.2 h5.4 M622.5,412.8 h5" fill="none" stroke="#2e2e2e" stroke-width="1.7"/>
<ellipse cx="624.5" cy="421" rx="1.6" ry="0.8" fill="none" stroke="#2e2e2e" stroke-width="1.1" transform="rotate(-20 624.5 421)"/>
<path d="M463.4,439.1 L478.1,393.6 L509,382.3 L513.5,384 L514.6,389.6 L518,387.9 L525.3,391.9 L526.4,398.6 L529.8,399.2 L530.4,394.7 L536.6,398.6 L536.6,432.4 L510.1,435.2 L502.2,438 L497.7,441.4 L496.6,447.6 L485.9,443.6 L484.8,440.2 L480.3,438.6 L479.2,434.6 L476.4,434.6 L475.2,438.6Z" fill="#fff" stroke="#2e2e2e" stroke-width="1.4"/>
<path d="M478.1,393.6 L480.3,397.5 L509,386.8 L513.5,384" fill="none" stroke="#2e2e2e" stroke-width="1.2"/>
<path d="M480.3,397.5 L468.5,438.5" fill="none" stroke="#2e2e2e" stroke-width="1.2"/>
<path d="M478.6,400.9 L473.6,435.7" fill="none" stroke="#2e2e2e" stroke-width="1.1"/>
<path d="M479.2,401 L479.8,408.7 L481.4,408.7 L482,401.4 L484.2,400.3" fill="none" stroke="#2e2e2e" stroke-width="1.2"/>
<path d="M470.5,436 L474,425" fill="none" stroke="#2e2e2e" stroke-width="2.4"/>
<path d="M483.7,399.2 L483.1,442.5" fill="none" stroke="#2e2e2e" stroke-width="2.2"/>
<path d="M485.4,403.1 L485.4,443.6" fill="none" stroke="#2e2e2e" stroke-width="1.2"/>
<path d="M488.7,406.5 L488.7,444.7" fill="none" stroke="#2e2e2e" stroke-width="2.6"/>
<path d="M491,404.2 L491.6,444.2" fill="none" stroke="#2e2e2e" stroke-width="1.2"/>
<path d="M494.9,408.7 L495.5,445.3" fill="none" stroke="#2e2e2e" stroke-width="2.6"/>
<path d="M484.2,395.8 L491,403.7 L494.9,408.7 L496.6,422.2 L497.2,441.4" fill="none" stroke="#2e2e2e" stroke-width="1.4"/>
<path d="M482,397.5 L488.7,406.5" fill="none" stroke="#2e2e2e" stroke-width="1.2"/>
<path d="M499.4,389.6 L499.4,423.4" fill="none" stroke="#2e2e2e" stroke-width="1.2"/>
<path d="M504.5,390.7 L504.5,431.2" fill="none" stroke="#2e2e2e" stroke-width="1.2"/>
<path d="M507.9,394.1 L507.9,424.5" fill="none" stroke="#2e2e2e" stroke-width="1.2"/>
<path d="M500.5,389 L507.3,394.7" fill="none" stroke="#2e2e2e" stroke-width="1.9"/>
<path d="M507.9,424.5 L507.3,395.2 L513.5,386.2" fill="none" stroke="#2e2e2e" stroke-width="1.2"/>
<path d="M518,387.9 L519.7,420" fill="none" stroke="#2e2e2e" stroke-width="1.2"/>
<path d="M526.4,398.6 L528.1,418.9" fill="none" stroke="#2e2e2e" stroke-width="1.2"/>
<path d="M530.4,394.7 L531.5,417.7" fill="none" stroke="#2e2e2e" stroke-width="1.9"/>
<path d="M513.5,384 L514.2,392" fill="none" stroke="#2e2e2e" stroke-width="2.2"/>
<path d="M506.2,424 L514.6,421.1 L528.1,419.4 L533.7,415.5 L536,413.2" fill="none" stroke="#2e2e2e" stroke-width="2.6"/>
<path d="M506.2,424 L506.2,436" fill="none" stroke="#2e2e2e" stroke-width="1.1"/>
<path d="M497.7,441.4 L498.3,429 Q499,425.4 500.6,425.4 Q502.4,425.6 502.5,428.5 L502.8,437.7" fill="none" stroke="#2e2e2e" stroke-width="1.2"/>
<path d="M514.4,384.8 L514.8,393" fill="none" stroke="#2e2e2e" stroke-width="0"/>
<path d="M473,441 L473,453 L484.3,456.3 L483.5,444" fill="none" stroke="#2e2e2e" stroke-width="1.2"/>
<path d="M471.3,453.5 L486,456.3" fill="none" stroke="#2e2e2e" stroke-width="2.6"/>
<path d="M473.3,458 L473.3,461.5" fill="none" stroke="#2e2e2e" stroke-width="2.2"/>
<path d="M483.5,459.5 L483.5,463" fill="none" stroke="#2e2e2e" stroke-width="2.2"/>
<circle cx="476.5" cy="443.5" r="0.9" fill="#222" stroke="#2e2e2e" stroke-width="0"/>
<circle cx="479.5" cy="447.5" r="0.9" fill="#222" stroke="#2e2e2e" stroke-width="0"/>
<path d="M512,436 L512,443.3" fill="none" stroke="#2e2e2e" stroke-width="1.1"/>
<path d="M523.3,434.5 L523.3,445.5" fill="none" stroke="#2e2e2e" stroke-width="1.1"/>
<path d="M510.3,443.3 L525,445.7" fill="none" stroke="#2e2e2e" stroke-width="2.6"/>
<path d="M512.3,447.5 L512.3,451" fill="none" stroke="#2e2e2e" stroke-width="2.2"/>
<path d="M522.8,449 L522.8,452.5" fill="none" stroke="#2e2e2e" stroke-width="2.2"/>
<circle cx="455" cy="442.5" r="1.2" fill="#222" stroke="#2e2e2e" stroke-width="0"/>
<circle cx="540" cy="411.3" r="1.2" fill="#222" stroke="#2e2e2e" stroke-width="0"/>
<path d="M537.1,414 L540,411.3" fill="none" stroke="#2e2e2e" stroke-width="1"/>
<path d="M441.2,384 L453.4,384.8 L464,393.8 L462.4,398.6 L460,406.8 L464.8,410.8 L442.9,419.8 L429.9,412.4Z" fill="#fff" stroke="#2e2e2e" stroke-width="1.3"/>
<path d="M441.2,384 L444.5,388.9 L455,389.7 L453.4,384.8" fill="none" stroke="#2e2e2e" stroke-width="1.1"/>
<path d="M444.5,388.9 L442.1,416.5" fill="none" stroke="#2e2e2e" stroke-width="1.1"/>
<path d="M455,389.7 L461.5,396" fill="none" stroke="#2e2e2e" stroke-width="1.1"/>
<path d="M446,392 L458,398.5" fill="none" stroke="#2e2e2e" stroke-width="1.4"/>
<path d="M446,394.5 L458,401" fill="none" stroke="#2e2e2e" stroke-width="1.4"/>
<path d="M443.5,408 Q449,404 459,404.5 M443.2,412 Q450,407.5 461,408 M443,416 Q451,411 463,411" fill="none" stroke="#2e2e2e" stroke-width="1.6"/>
<path d="M206,373 L222,371 L240,377 L278,396 L300,408 L316,419 L317,436 L312,438 L311,422 L280,403" fill="none" stroke="#2e2e2e" stroke-width="1.3"/>
<path d="M206,373 L194,388 L185,401 L185,407 L246,437 L284,464 L288,462 L289.6,442 L268,439 L254,432 L250,425 L256,418 L274,399 L278,396" fill="none" stroke="#2e2e2e" stroke-width="1.3"/>
<path d="M208,370.5 L223,368.5 L241,374.5 L280,394" fill="none" stroke="#2e2e2e" stroke-width="1"/>
<path d="M208,378 L213,377 L262,398 L254,405 L211,385Z" fill="none" stroke="#2e2e2e" stroke-width="1.3"/>
<path d="M211,380 L255,400.5" fill="none" stroke="#2e2e2e" stroke-width="2.6"/>
<path d="M210,384 L253,403.5" fill="none" stroke="#2e2e2e" stroke-width="1"/>
<path d="M198,403 L250,426 L249,433 L197,408Z" fill="#555" stroke="#2e2e2e" stroke-width="1"/>
<path d="M186,403.5 L197,408.5" fill="none" stroke="#2e2e2e" stroke-width="1.1"/>
<path d="M185.5,405 L247,435 L284.5,461.5" fill="none" stroke="#2e2e2e" stroke-width="2.4"/>
<path d="M258,422 L279,404 L311,422" fill="none" stroke="#2e2e2e" stroke-width="1.1"/>
<path d="M258,422 L289,441" fill="none" stroke="#2e2e2e" stroke-width="1.1"/>
<path d="M314,421 L314.5,436" fill="none" stroke="#2e2e2e" stroke-width="1"/>
<path d="M286,445 L285,462" fill="none" stroke="#2e2e2e" stroke-width="1"/>
<path d="M256,431 L285,447" fill="none" stroke="#2e2e2e" stroke-width="1.7" stroke-dasharray="3 2"/>
<circle cx="318" cy="451" r="1.3" fill="#222" stroke="#2e2e2e" stroke-width="0"/>
<circle cx="305" cy="458" r="1.3" fill="#222" stroke="#2e2e2e" stroke-width="0"/>
<circle cx="316" cy="461" r="1.3" fill="#222" stroke="#2e2e2e" stroke-width="0"/>
<circle cx="302" cy="467" r="1.3" fill="#222" stroke="#2e2e2e" stroke-width="0"/>
<path d="M277,475 L281,473" fill="none" stroke="#2e2e2e" stroke-width="2.6"/>
<path d="M272,482 L276,480" fill="none" stroke="#2e2e2e" stroke-width="2.6"/>
<path d="M342.5,431 L345.5,428.5" fill="none" stroke="#2e2e2e" stroke-width="2.6"/>
<path d="M340.5,445.5 L343.5,443" fill="none" stroke="#2e2e2e" stroke-width="2.6"/>
<path d="M345,470.5 L344,477 L333.6,502 L302,522 L301,520 L312,490" fill="none" stroke="#2e2e2e" stroke-width="3.1"/>
<path d="M345,470.5 L344,477 L333.6,502 L302,522 L301,520 L312,490" fill="none" stroke="#fff" stroke-width="1.1"/>
<path d="M168.5,425.9 L141,441 L136,497.5 L222.5,537.5 L262.5,498.75 L255,490 Q232,462 200,437 Q187,427.5 177,424 Q172.5,422.8 168.5,425.9Z" fill="none" stroke="#2e2e2e" stroke-width="1.3"/>
<path d="M141,441 Q165,458 187.5,479 Q212,503 227.5,520 L222.5,537.5" fill="none" stroke="#2e2e2e" stroke-width="1.2"/>
<path d="M544.2,56.2 L549.5,51 L578,28.5 L596,17.2 L602,19.5 L614,31.5 L615.5,36 L612.5,42 L609.5,49.5 L582.5,66 L575,72 L567.5,72 L563.8,68.2 L562.2,72.8Z" fill="#fff" stroke="#2e2e2e" stroke-width="2"/>
<path d="M544.2,56.2 L549.5,51 L566,66 L562.2,72.8Z" fill="#bbb" stroke="#2e2e2e" stroke-width="1.4"/>
<path d="M546.5,54.8 L563.8,70.5" fill="none" stroke="#2e2e2e" stroke-width="1.1"/>
<path d="M549.5,51.8 L566,66" fill="none" stroke="#2e2e2e" stroke-width="1.1"/>
<ellipse cx="562.2" cy="45" rx="6.4" ry="2.6" fill="none" stroke="#2e2e2e" stroke-width="2.4" transform="rotate(-32 562.2 45)"/>
<ellipse cx="584.8" cy="30" rx="6.4" ry="2.6" fill="none" stroke="#2e2e2e" stroke-width="2.4" transform="rotate(-32 584.8 30)"/>
<path d="M557,49.5 L596,21" fill="none" stroke="#2e2e2e" stroke-width="1.1"/>
<path d="M569,52.5 L600.5,30" fill="none" stroke="#2e2e2e" stroke-width="1.1"/>
<path d="M566,41.5 L579.5,32" fill="none" stroke="#2e2e2e" stroke-width="1.1"/>
<path d="M570,46 L584,36.5" fill="none" stroke="#2e2e2e" stroke-width="1.1"/>
<path d="M581.8,45 L600.5,34.5 L608,43.5 L588.5,55.5Z" fill="none" stroke="#2e2e2e" stroke-width="1.3"/>
<path d="M584,47 L600,38 L604.5,44 L589.5,52.5Z" fill="none" stroke="#2e2e2e" stroke-width="1"/>
<path d="M581.8,45 L582.5,61.5" fill="none" stroke="#2e2e2e" stroke-width="1.2"/>
<path d="M600.5,30 L601.2,46.5" fill="none" stroke="#2e2e2e" stroke-width="1.2"/>
<path d="M579.5,63 L611,45" fill="none" stroke="#2e2e2e" stroke-width="1.1"/>
<path d="M563.8,68.2 L567,64.5 L574,64.5 L577.5,68 L575,72" fill="none" stroke="#2e2e2e" stroke-width="1.2"/>
<path d="M596,17.2 L603,26 L612,33" fill="none" stroke="#2e2e2e" stroke-width="1.1"/>
<circle cx="615" cy="35" r="1.4" fill="#222" stroke="#2e2e2e" stroke-width="0"/>
<circle cx="577.7" cy="79.5" r="0.8" fill="#222" stroke="#2e2e2e" stroke-width="0"/>
<circle cx="598.7" cy="72.8" r="0.8" fill="#222" stroke="#2e2e2e" stroke-width="0"/>
<circle cx="614" cy="64.8" r="0.8" fill="#222" stroke="#2e2e2e" stroke-width="0"/>
<path d="M530,2.2 L558.5,7.5" fill="none" stroke="#2e2e2e" stroke-width="1.4"/>
<path d="M560.5,5.2 L560.5,12.8" fill="none" stroke="#2e2e2e" stroke-width="2.9"/>
<path d="M632,17.2 L632,24.8" fill="none" stroke="#2e2e2e" stroke-width="2.9"/>
<path d="M560,0 L560,1.5" fill="none" stroke="#2e2e2e" stroke-width="2.4"/>
<path d="M649.5,224.5 L649.5,227.5" fill="none" stroke="#2e2e2e" stroke-width="1.7"/>
<path d="M607,187.5 L607,190" fill="none" stroke="#2e2e2e" stroke-width="1.4"/>
<path d="M643.5,196.5 L643.5,199.5" fill="none" stroke="#2e2e2e" stroke-width="1.4"/>
<path d="M684.9,139.9 L691,139.9 L691.8,155 L686.3,160.5 L668.4,177 L667,150.9Z" fill="#fff" stroke="#2e2e2e" stroke-width="1.4"/>
<path d="M610,164.6 L617.5,159.1 L636,155 L637.5,174.3 L634.7,175.6 L634.7,182.5 L629.9,182.5 L629.9,175.6 L617.5,172.9 L610.6,168.8Z" fill="#fff" stroke="#2e2e2e" stroke-width="1.4"/>
<path d="M597.6,132.3 L599,145.4 Q600,148 607.9,147.5 L617.5,144.5 Q622,142 623,137 L614.8,135Z" fill="#fff" stroke="#2e2e2e" stroke-width="1.4"/>
<path d="M607.9,147.5 Q613,150 617,149 L621,144" fill="none" stroke="#2e2e2e" stroke-width="1.1"/>
<path d="M617.5,149.5 L626,147 L636,155 L617.5,159.1Z" fill="#fff" stroke="#2e2e2e" stroke-width="1.2"/>
<path d="M619,150.5 L625,155.5 M622,148.5 L629,154 M618,162 L628,166 M613,166 L627,171" fill="none" stroke="#2e2e2e" stroke-width="1.8"/>
<path d="M624,157 L629.5,156.5 L630,170 L624.5,168Z" fill="#555" stroke="#2e2e2e" stroke-width="1.1"/>
<path d="M613,163.5 L616,166.5 M621,169 L623,172.5" fill="none" stroke="#2e2e2e" stroke-width="2.6"/>
<path d="M621.5,147 L621.5,158 M626.5,149 L627,171 M631,151 L631.5,174 M634.5,153.5 L635,175" fill="none" stroke="#2e2e2e" stroke-width="1.6"/>
<path d="M618,152 Q624,149 628,152 L628,158 Q623,161 618,158Z" fill="#444" stroke="#2e2e2e" stroke-width="1.2"/>
<path d="M612,160.5 Q620,164 629,163.5 M611,167 Q619,172 630,172.5" fill="none" stroke="#2e2e2e" stroke-width="1.4"/>
<path d="M600,139 L613,141 M600,142.5 L611,144.5" fill="none" stroke="#2e2e2e" stroke-width="1"/>
<path d="M636,155 L656,157.8 L666.3,160.5 L667,177 L658.8,179.8 L637.5,174.3Z" fill="#222" stroke="#2e2e2e" stroke-width="1.4"/>
<path d="M640,159 L655,161.5 L655.8,175.5 L641,172Z" fill="#555" stroke="#bbb" stroke-width="0.8"/>
<path d="M644,160 l0.6,12.5 M648,160.6 l0.6,13 M652,161.3 l0.6,13.4" fill="none" stroke="#ccc" stroke-width="0.8"/>
<path d="M658,162.5 l7.5,1.6 M658.2,165.5 l7.5,1.6 M658.4,168.5 l7.5,1.6 M658.6,171.5 l7.5,1.6 M658.8,174.5 l7.5,1.6" fill="none" stroke="#bbb" stroke-width="0.8"/>
<path d="M668,160.5 L678,157.6 M668.2,164.5 L679.5,160.5 M668.4,168.5 L680,164.5 M668.6,172.3 L679,168.3" fill="none" stroke="#2e2e2e" stroke-width="1.3"/>
<path d="M678.5,146.5 L690,142 M680,156 L691.5,150.5 M684.5,141 L685,160" fill="none" stroke="#2e2e2e" stroke-width="1.2"/>
<path d="M680.5,149 L688,146.5 L688.5,156 L681,159.5Z" fill="#666" stroke="#2e2e2e" stroke-width="1"/>
<path d="M598.25,126.8 L605.1,120.6 L624.4,110.3 L635.4,109.35 L647.8,111 L658.8,116.5 L667,123.4 L678,133 L684.9,139.9 L683.5,141.5 L674,148.5 Q670,151.5 667,150.9 L656,146.8 L635.4,139.9 L614.8,135 L597.6,132.3 Z" fill="#fff" stroke="#2e2e2e" stroke-width="1.7"/>
<path d="M605.1,125.4 L631.3,129.6 L656,139.9 L672.5,146.8" fill="none" stroke="#2e2e2e" stroke-width="1.3"/>
<path d="M602,129.5 L630,134 L655,143.5 L669,149" fill="none" stroke="#2e2e2e" stroke-width="1"/>
<path d="M610.6,122.7 L626,114.5 L636,113 L648,115 Q656,118 662,124 L676,137 Q679,141 675,144" fill="none" stroke="#2e2e2e" stroke-width="1.3"/>
<path d="M621.6,124 L635.4,122.7 L650.5,126.1 L664.3,133.7 L665,136.8 L650.5,134.4 L635.4,129.6 L621.6,126.8Z" fill="#4a4a4a" stroke="#2e2e2e" stroke-width="1.1"/>
<path d="M626,125.5 L660,134.5" fill="none" stroke="#ddd" stroke-width="1.1" stroke-dasharray="1.6 1.4"/>
<path d="M624.4,115.4 L635.4,113.3 L647.8,115.4 L651,119.6 L635.4,119.6 L624.4,117.5Z" fill="none" stroke="#2e2e2e" stroke-width="1.1"/>
<circle cx="654.3" cy="121.8" r="1.3" fill="#fff" stroke="#2e2e2e" stroke-width="0.9"/>
<circle cx="619.5" cy="121" r="1" fill="#fff" stroke="#2e2e2e" stroke-width="0.8"/>
<path d="M603,113.75 L610.6,111.7 L615,113.2 L612.3,117.9 L605,118Z" fill="#fff" stroke="#2e2e2e" stroke-width="1.6"/>
<path d="M603,113.75 L602.5,116.3 L605,118 M606.5,113 L609,117.5" fill="none" stroke="#2e2e2e" stroke-width="1.2"/>
<!-- parts_deck -->
<path d="M540.5,466 L544,462 L550,440 L553.5,428 Q555,424 559,422.5 L587.5,412 L605,422.5 L624,428.5 Q643,432 659,439 Q671,445.5 678.5,452.5 Q685,460 685.5,475 L705,479 L709,480.3 L709,482.5 L682.5,490 L672.5,491 L667.5,487.5 L664,487.5 L661,491 L654,492.5 L634,493 L612,491 L594.5,490 L579.5,485.5 L578,478 L566,475 L555.5,472 L554,463 L549.5,463 L548,466.8 Z" fill="#fff" stroke="#2e2e2e" stroke-width="1.3"/>
<path d="M565,440 L541.5,454.5" fill="none" stroke="#2e2e2e" stroke-width="1.2"/>
<path d="M553.8,435.5 L544.5,444.2" fill="none" stroke="#2e2e2e" stroke-width="1.2"/>
<path d="M605,452 Q607,448.5 622.5,446 Q634,445 641,447.5 Q653,450.5 654,454 Q652,457 646,459 Q637,462 627.5,462.5 Q617,462 611,459.5 Q605.5,456 605,452Z" fill="none" stroke="#2e2e2e" stroke-width="1.2"/>
<path d="M609,452.5 Q611,449.5 623,448 Q634,447 640,449 Q649,451.5 649.5,454 Q647,457 640,458.5 Q632,460 626,460 Q615,459.5 609,452.5Z" fill="none" stroke="#2e2e2e" stroke-width="1"/>
<path d="M588.5,440.5 Q592,447 600,451.5 Q612,462 632.5,466 Q645,466.5 652,463 Q658,459.5 657,455" fill="none" stroke="#2e2e2e" stroke-width="1.2"/>
<path d="M584,462 Q586,458 599,457 L612,460.5 Q619.5,463.5 620,472 Q619.5,480 612,483 Q606,484.5 598,483 L588,480 Q582.5,477.5 582.5,472Z" fill="none" stroke="#2e2e2e" stroke-width="1.2"/>
<path d="M593,478 L607,472" fill="none" stroke="#2e2e2e" stroke-width="1.1"/>
<path d="M586,468 L601,462" fill="none" stroke="#2e2e2e" stroke-width="1.1"/>
<path d="M579.5,485.5 L579.5,490.5 L586,493.5 L586,515" fill="none" stroke="#2e2e2e" stroke-width="1.1"/>
<path d="M593,478 L593,495.5 L600,499 L600,518" fill="none" stroke="#2e2e2e" stroke-width="1.1"/>
<circle cx="553.8" cy="435.5" r="0.8" fill="#222" stroke="#2e2e2e" stroke-width="0"/>
<circle cx="565" cy="440" r="0.8" fill="#222" stroke="#2e2e2e" stroke-width="0"/>
<circle cx="561.5" cy="418.5" r="0.8" fill="#222" stroke="#2e2e2e" stroke-width="0"/>
<circle cx="571" cy="415.5" r="0.8" fill="#222" stroke="#2e2e2e" stroke-width="0"/>
<circle cx="597" cy="417.5" r="0.8" fill="#222" stroke="#2e2e2e" stroke-width="0"/>
<circle cx="606.5" cy="424" r="0.8" fill="#222" stroke="#2e2e2e" stroke-width="0"/>
<circle cx="620" cy="427.5" r="0.8" fill="#222" stroke="#2e2e2e" stroke-width="0"/>
<circle cx="566" cy="458" r="0.8" fill="#222" stroke="#2e2e2e" stroke-width="0"/>
<circle cx="573" cy="468" r="0.8" fill="#222" stroke="#2e2e2e" stroke-width="0"/>
<circle cx="560" cy="446" r="0.8" fill="#222" stroke="#2e2e2e" stroke-width="0"/>
<circle cx="640" cy="436" r="0.8" fill="#222" stroke="#2e2e2e" stroke-width="0"/>
<circle cx="662" cy="446" r="0.8" fill="#222" stroke="#2e2e2e" stroke-width="0"/>
<circle cx="672" cy="458" r="0.8" fill="#222" stroke="#2e2e2e" stroke-width="0"/>
<circle cx="660" cy="470" r="0.8" fill="#222" stroke="#2e2e2e" stroke-width="0"/>
<circle cx="600" cy="444" r="0.8" fill="#222" stroke="#2e2e2e" stroke-width="0"/>
<circle cx="650" cy="444" r="0.8" fill="#222" stroke="#2e2e2e" stroke-width="0"/>
<circle cx="591" cy="462" r="0.8" fill="#222" stroke="#2e2e2e" stroke-width="0"/>
<path d="M684,462.5 L687,468 L687.5,476.5" fill="none" stroke="#2e2e2e" stroke-width="1"/>
<path d="M662,486.5 L664.5,483.5 L667,486.5" fill="none" stroke="#2e2e2e" stroke-width="1.1"/>
<path d="M683,477 L701,471.5 L709,480" fill="none" stroke="#2e2e2e" stroke-width="1.2"/>
<path d="M701,471.5 L701,466.5 L704,466.5 L704.5,476" fill="none" stroke="#2e2e2e" stroke-width="1.2"/>
<path d="M672.5,440 L672.5,497" fill="none" stroke="#2e2e2e" stroke-width="1.1"/>
<path d="M672.5,498 L672.5,502" fill="none" stroke="#2e2e2e" stroke-width="2.3"/>
<path d="M680,444 L680,496" fill="none" stroke="#2e2e2e" stroke-width="1.1"/>
<path d="M680,497 L680,501" fill="none" stroke="#2e2e2e" stroke-width="2.3"/>
<path d="M693.5,440 L693.5,490" fill="none" stroke="#2e2e2e" stroke-width="1.1"/>
<path d="M693.5,491 L693.5,495" fill="none" stroke="#2e2e2e" stroke-width="2.3"/>
<path d="M702.5,432 L702.5,487.5" fill="none" stroke="#2e2e2e" stroke-width="1.1"/>
<path d="M702.5,488.5 L702.5,492.5" fill="none" stroke="#2e2e2e" stroke-width="2.3"/>
<path d="M705,432 L705,486" fill="none" stroke="#2e2e2e" stroke-width="1.1"/>
<path d="M658.4,419.9 L660.7,414.2 L675.9,407.5 L682.6,397.4 L683.7,393.4 L687.1,394.6 L700.6,403 L708.5,395.7 L711.3,395.1 L728.7,405.8 L730.4,410.9 L729.9,417.6 L727.6,418.7 L726.5,415.4 L722,418.7 L716.4,422.1 L715.8,430 L713,431.1 L711.9,425.5 L692.7,437.9 L687.1,443.5 L682.6,445.7 L659,437.9Z" fill="#fff" stroke="#2e2e2e" stroke-width="1.6"/>
<path d="M660.7,414.2 Q673,416.5 687.1,426.6 Q692,431 692.7,437.9" fill="none" stroke="#2e2e2e" stroke-width="2.9"/>
<path d="M664.6,417 Q676,419.5 683.7,424.4 Q689,429 689.4,433.5 L688.2,440.1 L683.7,441.2" fill="none" stroke="#2e2e2e" stroke-width="1.3"/>
<path d="M659.5,421.5 Q672,424.5 682,433 L683.7,441.2" fill="none" stroke="#2e2e2e" stroke-width="1.1"/>
<path d="M682.6,397.4 Q682,404 675.9,407.5 M687.1,394.6 Q688,401 700.6,408.5 M683.7,393.4 L687.1,394.6" fill="none" stroke="#2e2e2e" stroke-width="1.4"/>
<path d="M675.9,407.5 Q688,410.5 697,417" fill="none" stroke="#2e2e2e" stroke-width="1.2"/>
<ellipse cx="690.5" cy="403" rx="1.6" ry="0.8" fill="none" stroke="#2e2e2e" stroke-width="1.1" transform="rotate(25 690.5 403)"/>
<ellipse cx="676.5" cy="417.5" rx="1.6" ry="0.8" fill="none" stroke="#2e2e2e" stroke-width="1.1" transform="rotate(25 676.5 417.5)"/>
<path d="M683.7,417.6 L692.7,412 L702.9,417.6 L695,422.1Z" fill="none" stroke="#2e2e2e" stroke-width="1.2"/>
<path d="M692.7,412 L692.7,437" fill="none" stroke="#2e2e2e" stroke-width="0"/>
<path d="M697,417 Q703,420.5 711.9,425.5 M700.6,403 L702.9,410.5 Q699,413 692.7,412" fill="none" stroke="#2e2e2e" stroke-width="1.3"/>
<path d="M708.5,395.7 Q706.5,405 702.9,410.5 M711.3,395.1 L728.7,405.8" fill="none" stroke="#2e2e2e" stroke-width="2.9"/>
<path d="M714,399.5 L727.6,408.2 M702.9,410.5 Q713,414.5 722,418.7" fill="none" stroke="#2e2e2e" stroke-width="1.4"/>
<path d="M716.4,407.5 L727.6,410.9 L722,418.7 L713,417.6Z" fill="#2a2a2a" stroke="#2e2e2e" stroke-width="1"/>
<path d="M710.7,410.9 L718.6,406.4 L719.7,409.2 L713,414.2Z" fill="#fff" stroke="#2e2e2e" stroke-width="1"/>
<path d="M702.9,417.6 Q709,419 716.4,422.1" fill="none" stroke="#2e2e2e" stroke-width="2.4"/>
<path d="M664.6,441 L664.6,433.5 Q666,431 667.4,433.5 L667.4,441.8" fill="none" stroke="#2e2e2e" stroke-width="1.1"/>
<path d="M682.6,445.7 L682,434" fill="none" stroke="#2e2e2e" stroke-width="1.1"/>
<path d="M515,505 L521,490 Q523,486 527,486 L556,493.5 Q560.5,495 560,500 L555,511 Q553,513 550,512 L532,507 L519,508 Q515,507.5 515,505Z" fill="none" stroke="#2e2e2e" stroke-width="1.9"/>
<path d="M520.5,503.5 L525.5,491.5 Q526.5,489.5 529,490 L553,496.5 Q555.5,497.5 555,500 L551.5,508 L533.5,503.5 L522,504.5Z" fill="none" stroke="#2e2e2e" stroke-width="1.6"/>
<path d="M530,487 l1.5,5 M537,489 l1.5,5 M543.5,490.5 l1.5,5 M550,492.5 l1.2,4.5" fill="none" stroke="#2e2e2e" stroke-width="1.9"/>
<path d="M560,500 L634,525" fill="none" stroke="#2e2e2e" stroke-width="1.2"/>
<path d="M564.5,501 L577,505.5" fill="none" stroke="#2e2e2e" stroke-width="2.9" stroke-dasharray="2 1.3"/>
<path d="M583,509 L603,516" fill="none" stroke="#2e2e2e" stroke-width="2.9"/>
<ellipse cx="585" cy="510" rx="2.2" ry="1.6" fill="#fff" stroke="#2e2e2e" stroke-width="1.2" transform="rotate(20 585 510)"/>
<circle cx="586" cy="517" r="1.4" fill="#222" stroke="#2e2e2e" stroke-width="0"/>
<circle cx="600" cy="521.5" r="1.4" fill="#222" stroke="#2e2e2e" stroke-width="0"/>
<path d="M585,512 L568,526 L575,531 L562.5,543.5" fill="none" stroke="#2e2e2e" stroke-width="1.1"/>
<path d="M600,517 L582,530 L594.4,538.9 L582.5,552" fill="none" stroke="#2e2e2e" stroke-width="1.1"/>
<circle cx="640" cy="513.5" r="1.9" fill="#fff" stroke="#2e2e2e" stroke-width="1.1"/>
<path d="M517.9,574.9 L518.4,571 L523.5,564.8 L549.4,546.2 L553.3,545.1 L555.6,547.4 L551.6,551.9 L568.5,559.2 L573,558.6 L587.6,558.1 L590.4,560.9 L590.4,573.2 L588.7,580 L583.1,583.4 L558.4,584.5 L553.9,582.2 L552.2,578.3 L549.4,575.5 L522.4,577.7Z" fill="#fff" stroke="#2e2e2e" stroke-width="1.6"/>
<path d="M523.5,564.8 L552.7,573.2 L556.1,572.1 L559.5,568.7 L588.7,559.2" fill="none" stroke="#2e2e2e" stroke-width="1.2"/>
<path d="M518.4,571 L522.4,568.7 L551.6,576" fill="none" stroke="#2e2e2e" stroke-width="1.1"/>
<path d="M519.2,571.5 Q517.8,575.5 521.5,577" fill="none" stroke="#2e2e2e" stroke-width="1.9"/>
<path d="M559.5,568.5 L559.5,581.7" fill="none" stroke="#2e2e2e" stroke-width="1.6"/>
<path d="M565.1,566.9 L565.1,581.7" fill="none" stroke="#2e2e2e" stroke-width="1.6"/>
<path d="M570.7,565.3 L570.7,581.7" fill="none" stroke="#2e2e2e" stroke-width="1.6"/>
<path d="M575.8,563.7 L575.8,581.7" fill="none" stroke="#2e2e2e" stroke-width="1.6"/>
<path d="M581.4,562.1 L581.4,581.7" fill="none" stroke="#2e2e2e" stroke-width="1.6"/>
<path d="M586.5,560.5 L586.5,581.7" fill="none" stroke="#2e2e2e" stroke-width="1.6"/>
<path d="M548.8,560.3 L552.7,556.9 L562.9,560.9 L556.1,565.9 L551.1,564.8Z" fill="#262626" stroke="#2e2e2e" stroke-width="1"/>
<path d="M551.1,551.9 L561.7,543.4 M553.2,554 L563.6,545.6 M571.3,559.2 L582,551.9 M573.2,561.4 L583.8,554.2" fill="none" stroke="#2e2e2e" stroke-width="1.3"/>
<path d="M561.7,543.4 L563.6,545.6 M582,551.9 L583.8,554.2" fill="none" stroke="#2e2e2e" stroke-width="2.6"/>
<path d="M558.4,550.7 L573,556.9 M560.2,548.9 L575,555.2" fill="none" stroke="#2e2e2e" stroke-width="1.2"/>
<ellipse cx="634" cy="571" rx="31" ry="5.2" fill="none" stroke="#2e2e2e" stroke-width="1.2" transform="rotate(3 634 571)"/>
<ellipse cx="634" cy="571" rx="29.4" ry="4.2" fill="none" stroke="#2e2e2e" stroke-width="1.1" transform="rotate(3 634 571)"/>
<path d="M622,594.5 L622,600.5 A11,3.2 0 0 0 644,600.5 L644,594.5" fill="#fff" stroke="#2e2e2e" stroke-width="1.3"/>
<ellipse cx="633" cy="594.5" rx="11" ry="3.2" fill="#fff" stroke="#2e2e2e" stroke-width="1.7"/>
<path d="M622,597 A11,3.2 0 0 0 644,597 M622,598.8 A11,3.2 0 0 0 644,598.8" fill="none" stroke="#2e2e2e" stroke-width="1.4"/>
<ellipse cx="633" cy="594.3" rx="5" ry="1.6" fill="none" stroke="#2e2e2e" stroke-width="1.3"/>
<ellipse cx="653.2" cy="593.6" rx="2.4" ry="1.5" fill="#888" stroke="#2e2e2e" stroke-width="1.7" transform="rotate(-25 653.2 593.6)"/>
<ellipse cx="611.6" cy="605" rx="1.8" ry="2.6" fill="none" stroke="#2e2e2e" stroke-width="1.6" transform="rotate(-15 611.6 605)"/>
<circle cx="641.6" cy="614.3" r="1.6" fill="#222" stroke="#2e2e2e" stroke-width="0"/>
<path d="M597.9,613.2 L599.6,612.6 L606.9,621.6 L608.6,627.2 L611.9,629.5 L621.5,629.5 L627.1,623.3 L634.4,618.2 L638.9,618.8 L640,624.4 L642.9,628.4 L640.6,629.5 L648.5,638.5 L647.9,647.5 L644,650.3 L636.1,649.7 L627.1,645.8 L618.1,641.3 L612.5,640.2 L606.9,638.5 L597.9,634Z" fill="#fff" stroke="#2e2e2e" stroke-width="1.4"/>
<path d="M611.9,628.4 L627.1,623.3 L633.9,618.8 L637.2,625 L639.5,632.9 L642.9,636.2 L639.5,639.6 L635,636.2 L629.4,634 L623.7,634 L615.9,631.7Z" fill="#2e2e2e" stroke="#2e2e2e" stroke-width="1"/>
<path d="M620,630.5 l9,-5 M624,632.5 l9,-7 M629,633 l7,-6 M634,635 l5,-4" fill="none" stroke="#bbb" stroke-width="0.8"/>
<path d="M634.4,638.5 Q640,642.5 648.5,641 M636,619 L638,626 L641,629" fill="none" stroke="#2e2e2e" stroke-width="1.2"/>
<path d="M637,633 L638.5,640 M640,634 L641.5,640.5" fill="none" stroke="#2e2e2e" stroke-width="1.9"/>
<path d="M614.5,618.3 h1.8 v1.8 h-1.8Z" fill="#222" stroke="#2e2e2e" stroke-width="1"/>
<path d="M602.9,648.3 L602.9,652.1" fill="none" stroke="#2e2e2e" stroke-width="2.4"/>
<path d="M616.1,645 L616.1,648.8" fill="none" stroke="#2e2e2e" stroke-width="2.4"/>
<path d="M612.5,656.7 L612.5,660.5" fill="none" stroke="#2e2e2e" stroke-width="2.4"/>
<path d="M638.6,652.2 L638.6,656" fill="none" stroke="#2e2e2e" stroke-width="2.4"/>
<path d="M620,692 L627.5,704 L644,701 L639.5,693.5Z" fill="#fff" stroke="#2e2e2e" stroke-width="1.2"/>
<path d="M627.5,687.5 L627.5,697.5 A5.6,1.8 0 0 0 638.7,697.5 L638.7,687.5" fill="#fff" stroke="#2e2e2e" stroke-width="1.3"/>
<ellipse cx="633.1" cy="687.5" rx="5.6" ry="1.8" fill="#fff" stroke="#2e2e2e" stroke-width="1.6"/>
<path d="M560,741.5 L582.5,732.5 L603.5,730 L609.5,733 L659,726.5 L701,720.5 L707,726.5 L692,732.5 L683,731 L665,734 L620,741.5 L590,743.6 L566,748 L560,744.5Z" fill="#fff" stroke="#2e2e2e" stroke-width="1.3"/>
<path d="M582.5,732.5 L590,743.6" fill="none" stroke="#2e2e2e" stroke-width="1.1"/>
<path d="M603.5,730 L613,742.3" fill="none" stroke="#2e2e2e" stroke-width="1.1"/>
<path d="M609.5,733 L616,741.8" fill="none" stroke="#2e2e2e" stroke-width="1.1"/>
<path d="M659,726.5 L665,734" fill="none" stroke="#2e2e2e" stroke-width="1.1"/>
<path d="M683,731 L689,722.3" fill="none" stroke="#2e2e2e" stroke-width="1.1"/>
<path d="M561,743 L584,735 L587,739" fill="none" stroke="#2e2e2e" stroke-width="1"/>
<ellipse cx="623" cy="734" rx="1.7" ry="0.8" fill="none" stroke="#2e2e2e" stroke-width="1.1" transform="rotate(-8 623 734)"/>
<ellipse cx="632" cy="733.2" rx="1.7" ry="0.8" fill="none" stroke="#2e2e2e" stroke-width="1.1" transform="rotate(-8 632 733.2)"/>
<ellipse cx="641.6" cy="732.3" rx="1.7" ry="0.8" fill="none" stroke="#2e2e2e" stroke-width="1.1" transform="rotate(-8 641.6 732.3)"/>
<ellipse cx="634" cy="757.4" rx="8" ry="3" fill="#fff" stroke="#2e2e2e" stroke-width="1.4"/>
<ellipse cx="634" cy="757.2" rx="2.6" ry="1" fill="none" stroke="#2e2e2e" stroke-width="1.2"/>
<ellipse cx="634" cy="776.6" rx="10.5" ry="3.6" fill="#fff" stroke="#2e2e2e" stroke-width="1.4"/>
<ellipse cx="634" cy="776.4" rx="3.4" ry="1.3" fill="none" stroke="#2e2e2e" stroke-width="1.2"/>
<path d="M631.5,795.5 L636,795.5 L636,800 L631.5,800" fill="none" stroke="#2e2e2e" stroke-width="1.3"/>
<path d="M633.8,184 L633.8,800" fill="none" stroke="#333" stroke-width="1.2"/>
<!-- parts_wheels -->
<path d="M41.2,748.5 L38.1,735.8 M41.2,748.5 L32.0,745.0 M41.2,748.5 L39.9,761.6 M41.2,748.5 L48.6,759.9 M41.2,748.5 L46.9,745.0" fill="none" stroke="#2e2e2e" stroke-width="3.8"/>
<path d="M41.2,748.5 L38.1,735.8 M41.2,748.5 L32.0,745.0 M41.2,748.5 L39.9,761.6 M41.2,748.5 L48.6,759.9 M41.2,748.5 L46.9,745.0" fill="none" stroke="#fff" stroke-width="1.1"/>
<ellipse cx="46.4" cy="747.9" rx="2" ry="3.2" fill="#fff" stroke="#2e2e2e" stroke-width="1.3" transform="rotate(-15 46.4 747.9)"/>
<ellipse cx="43.2" cy="748.9" rx="2.2" ry="3" fill="#fff" stroke="#2e2e2e" stroke-width="1.2" transform="rotate(-15 43.2 748.9)"/>
<ellipse cx="70.8" cy="737.8" rx="10.4" ry="21.6" fill="#fff" stroke="#2e2e2e" stroke-width="1.6" transform="rotate(-22 70.8 737.8)"/>
<ellipse cx="69.8" cy="738.2" rx="10.4" ry="21.6" fill="#fff" stroke="#2e2e2e" stroke-width="2.4" transform="rotate(-22 69.8 738.2)"/>
<ellipse cx="69.8" cy="738.2" rx="8.3" ry="17.7" fill="none" stroke="#2e2e2e" stroke-width="1.8" transform="rotate(-22 69.8 738.2)"/>
<path d="M63.5,722.6 L69.5,731.5 L75.0,730.5 L74.0,739.1 L79.3,749.1 L72.7,745.4 L70.5,752.6 L67.4,741.8 L60.7,736.3 L65.4,733.2Z" fill="none" stroke="#2e2e2e" stroke-width="2.4"/>
<path d="M65.3,727.2 L69.6,734.5 L73.5,732.8 L72.1,738.7 L76.5,745.9 L71.4,742.2 L70.3,748.4 L68.5,740.2 L63.4,736.8 L67.4,735.4Z" fill="none" stroke="#2e2e2e" stroke-width="1.7"/>
<path d="M69.5,731.5 L69.0,723.1 M74.0,739.1 L79.2,740.3 M72.7,745.4 L76.4,754.6 M67.4,741.8 L64.5,746.2 M65.4,733.2 L59.9,726.7" fill="none" stroke="#2e2e2e" stroke-width="1.8"/>
<ellipse cx="115.5" cy="711.7" rx="17.7" ry="26.3" fill="#fff" stroke="#2e2e2e" stroke-width="1.6" transform="rotate(-25 115.5 711.7)"/>
<ellipse cx="111.8" cy="713.4" rx="18" ry="26.9" fill="none" stroke="#2e2e2e" stroke-width="1" transform="rotate(-25 111.8 713.4)"/>
<path d="M101.8,688.6 L106.9,687.4 L106.7,688.3 L112.0,687.9 L111.9,689.7 L117.1,690.2 L117.1,692.8 L122.0,693.9 L121.8,697.3 L126.3,699.0 L125.8,703.0 L129.8,705.0 L128.8,709.4 L132.2,711.5 L130.5,716.1 L133.3,718.1 L131.0,722.6 L133.0,724.3 L130.0,728.5 L131.4,729.7 L127.8,733.4 L128.6,733.9 L124.4,737.0" fill="none" stroke="#2e2e2e" stroke-width="1.2"/>
<ellipse cx="107.3" cy="715.5" rx="18.4" ry="27.4" fill="#fff" stroke="#2e2e2e" stroke-width="1.7" transform="rotate(-25 107.3 715.5)"/>
<ellipse cx="107.3" cy="715.5" rx="16.4" ry="25.1" fill="none" stroke="#2e2e2e" stroke-width="1.3" transform="rotate(-25 107.3 715.5)"/>
<ellipse cx="172" cy="687" rx="19.4" ry="20.6" fill="#fff" stroke="#2e2e2e" stroke-width="1.3" transform="rotate(-25 172 687)"/>
<ellipse cx="170.5" cy="687.7" rx="19.4" ry="20.6" fill="#fff" stroke="#2e2e2e" stroke-width="1.4" transform="rotate(-25 170.5 687.7)"/>
<path d="M168.2,684.3 L163.5,674.6 M169.4,683.7 L165.0,673.9 M172.8,684.5 L180.0,677.3 M173.8,685.6 L181.2,678.6 M174.2,689.1 L183.4,694.3 M173.6,690.4 L182.6,695.9 M170.5,691.8 L169.0,702.2 M169.2,691.5 L167.3,701.8 M166.8,688.8 L156.7,690.0 M166.6,687.4 L156.4,688.3" fill="none" stroke="#2e2e2e" stroke-width="1.1"/>
<ellipse cx="170.5" cy="687.7" rx="4.2" ry="4.6" fill="#fff" stroke="#2e2e2e" stroke-width="1.3" transform="rotate(-25 170.5 687.7)"/>
<ellipse cx="170.5" cy="687.7" rx="2.2" ry="2.5" fill="#bbb" stroke="#2e2e2e" stroke-width="1.6" transform="rotate(-25 170.5 687.7)"/>
<ellipse cx="183.2" cy="694" rx="3.4" ry="4" fill="#fff" stroke="#2e2e2e" stroke-width="1.3" transform="rotate(-15 183.2 694)"/>
<ellipse cx="184.2" cy="693.6" rx="2.4" ry="3" fill="none" stroke="#2e2e2e" stroke-width="1" transform="rotate(-15 184.2 693.6)"/>
<path d="M45,746.3 L217.5,665" fill="none" stroke="#2e2e2e" stroke-width="1.1"/>
<path d="M146,712.3 L216,682.5" fill="none" stroke="#2e2e2e" stroke-width="1.1"/>
<path d="M114.4,716.4 L112.7,717.5 L111.8,719.6 L110.0,718.5 L108.0,718.7 L108.0,716.5 L106.8,714.6 L108.5,713.5 L109.4,711.4 L111.2,712.5 L113.2,712.3 L113.2,714.5Z" fill="#111" stroke="#2e2e2e" stroke-width="1.2"/>
<circle cx="83" cy="728" r="1.7" fill="#222" stroke="#2e2e2e" stroke-width="0"/>
<ellipse cx="144.3" cy="713" rx="1.9" ry="2.4" fill="#fff" stroke="#2e2e2e" stroke-width="1.4" transform="rotate(-20 144.3 713)"/>
<circle cx="154.3" cy="708.6" r="4" fill="#1e1e1e" stroke="#2e2e2e" stroke-width="0"/>
<ellipse cx="154.3" cy="708.6" rx="1.8" ry="1.8" fill="#555" stroke="#888" stroke-width="0.7"/>
<ellipse cx="196.5" cy="690.3" rx="1.8" ry="2.3" fill="#fff" stroke="#2e2e2e" stroke-width="1.4" transform="rotate(-20 196.5 690.3)"/>
<circle cx="206.5" cy="685.5" r="3.1" fill="#111" stroke="#2e2e2e" stroke-width="0"/>
<circle cx="203.3" cy="671.8" r="1.4" fill="#222" stroke="#2e2e2e" stroke-width="0"/>
<path d="M221.5,728.8 L218.4,716.1 M221.5,728.8 L212.3,725.3 M221.5,728.8 L220.2,741.9 M221.5,728.8 L228.9,740.2 M221.5,728.8 L227.2,725.3" fill="none" stroke="#2e2e2e" stroke-width="3.8"/>
<path d="M221.5,728.8 L218.4,716.1 M221.5,728.8 L212.3,725.3 M221.5,728.8 L220.2,741.9 M221.5,728.8 L228.9,740.2 M221.5,728.8 L227.2,725.3" fill="none" stroke="#fff" stroke-width="1.1"/>
<ellipse cx="226.7" cy="728.2" rx="2" ry="3.2" fill="#fff" stroke="#2e2e2e" stroke-width="1.3" transform="rotate(-15 226.7 728.2)"/>
<ellipse cx="223.5" cy="729.2" rx="2.2" ry="3" fill="#fff" stroke="#2e2e2e" stroke-width="1.2" transform="rotate(-15 223.5 729.2)"/>
<ellipse cx="252.5" cy="718.8" rx="9.8" ry="22.2" fill="#fff" stroke="#2e2e2e" stroke-width="1.6" transform="rotate(-22 252.5 718.8)"/>
<ellipse cx="251.5" cy="719.2" rx="9.8" ry="22.2" fill="#fff" stroke="#2e2e2e" stroke-width="2.4" transform="rotate(-22 251.5 719.2)"/>
<ellipse cx="251.5" cy="719.2" rx="7.8" ry="18.2" fill="none" stroke="#2e2e2e" stroke-width="1.8" transform="rotate(-22 251.5 719.2)"/>
<path d="M245.0,703.1 L251.0,712.4 L256.2,711.5 L255.5,720.2 L260.9,730.5 L254.5,726.6 L252.6,733.9 L249.3,722.7 L242.8,717.0 L247.2,714.0Z" fill="none" stroke="#2e2e2e" stroke-width="2.4"/>
<path d="M246.9,707.9 L251.2,715.4 L254.8,713.8 L253.7,719.8 L258.1,727.2 L253.2,723.3 L252.3,729.5 L250.3,721.2 L245.3,717.6 L249.1,716.3Z" fill="none" stroke="#2e2e2e" stroke-width="1.7"/>
<path d="M251.0,712.4 L250.3,703.8 M255.5,720.2 L260.5,721.6 M254.5,726.6 L258.3,736.1 M249.3,722.7 L246.7,727.2 M247.2,714.0 L241.7,707.3" fill="none" stroke="#2e2e2e" stroke-width="1.8"/>
<ellipse cx="294.5" cy="699.5" rx="17.3" ry="23.4" fill="#fff" stroke="#2e2e2e" stroke-width="1.6" transform="rotate(-25 294.5 699.5)"/>
<ellipse cx="291.8" cy="700.7" rx="17.6" ry="23.9" fill="none" stroke="#2e2e2e" stroke-width="1" transform="rotate(-25 291.8 700.7)"/>
<path d="M283.3,678.5 L287.6,677.5 L288.0,678.1 L292.4,677.9 L293.0,679.2 L297.3,679.7 L297.8,681.8 L301.9,683.0 L302.2,685.8 L305.9,687.4 L305.9,690.7 L309.0,692.7 L308.5,696.4 L311.1,698.6 L310.0,702.4 L311.9,704.5 L310.2,708.3 L311.4,710.1 L309.1,713.7 L309.7,715.0 L306.7,718.2 L306.9,719.0 L303.4,721.6" fill="none" stroke="#2e2e2e" stroke-width="1.2"/>
<ellipse cx="288.6" cy="702.2" rx="18" ry="24.4" fill="#fff" stroke="#2e2e2e" stroke-width="1.7" transform="rotate(-25 288.6 702.2)"/>
<ellipse cx="288.6" cy="702.2" rx="16" ry="22.1" fill="none" stroke="#2e2e2e" stroke-width="1.3" transform="rotate(-25 288.6 702.2)"/>
<path d="M226,727 L323,684.5" fill="none" stroke="#2e2e2e" stroke-width="1.1"/>
<path d="M294.3,702.4 L292.6,703.5 L291.7,705.6 L289.9,704.5 L287.9,704.7 L287.9,702.5 L286.7,700.6 L288.4,699.5 L289.3,697.4 L291.1,698.5 L293.1,698.3 L293.1,700.5Z" fill="#111" stroke="#2e2e2e" stroke-width="1.2"/>
<circle cx="266.5" cy="712.2" r="1.7" fill="#222" stroke="#2e2e2e" stroke-width="0"/>
<circle cx="314.5" cy="690" r="1.5" fill="#222" stroke="#2e2e2e" stroke-width="0"/>
<circle cx="327.5" cy="683" r="1.5" fill="#222" stroke="#2e2e2e" stroke-width="0"/>
<ellipse cx="357.3" cy="601.8" rx="19.6" ry="18.6" fill="#fff" stroke="#2e2e2e" stroke-width="1.3" transform="rotate(-25 357.3 601.8)"/>
<ellipse cx="356" cy="602.4" rx="19.6" ry="18.6" fill="#fff" stroke="#2e2e2e" stroke-width="1.4" transform="rotate(-25 356 602.4)"/>
<path d="M353.8,599.4 L349.6,590.6 M355.1,598.8 L351.1,589.9 M358.4,599.3 L365.8,592.4 M359.3,600.3 L367.0,593.6 M359.7,603.5 L368.5,608.0 M359.0,604.7 L367.7,609.4 M355.9,606.2 L353.9,615.8 M354.5,605.9 L352.2,615.6 M352.3,603.6 L342.2,605.1 M352.1,602.3 L342.0,603.5" fill="none" stroke="#2e2e2e" stroke-width="1.1"/>
<ellipse cx="356" cy="602.4" rx="4.2" ry="4.6" fill="#fff" stroke="#2e2e2e" stroke-width="1.3" transform="rotate(-25 356 602.4)"/>
<ellipse cx="356" cy="602.4" rx="2.2" ry="2.5" fill="#bbb" stroke="#2e2e2e" stroke-width="1.6" transform="rotate(-25 356 602.4)"/>
<ellipse cx="362.9" cy="609.4" rx="3.8" ry="3.2" fill="#fff" stroke="#2e2e2e" stroke-width="1.3" transform="rotate(-20 362.9 609.4)"/>
<ellipse cx="363.6" cy="609.1" rx="2.7" ry="2.2" fill="none" stroke="#2e2e2e" stroke-width="1" transform="rotate(-20 363.6 609.1)"/>
<path d="M275,656.6 L381,589 L392,583.5" fill="none" stroke="#2e2e2e" stroke-width="1.1"/>
<path d="M287.5,652 L400,607" fill="none" stroke="#2e2e2e" stroke-width="1.1"/>
<circle cx="381.5" cy="589.2" r="1.6" fill="#222" stroke="#2e2e2e" stroke-width="0"/>
<circle cx="386" cy="606.3" r="4.3" fill="#1e1e1e" stroke="#2e2e2e" stroke-width="0"/>
<ellipse cx="386" cy="606.3" rx="1.9" ry="1.9" fill="#555" stroke="#888" stroke-width="0.7"/>
<ellipse cx="395" cy="603" rx="1.8" ry="1.8" fill="#fff" stroke="#2e2e2e" stroke-width="1.4"/>
<ellipse cx="420.3" cy="569" rx="18.8" ry="25.9" fill="#fff" stroke="#2e2e2e" stroke-width="1.6" transform="rotate(-25 420.3 569)"/>
<ellipse cx="417.7" cy="570.3" rx="19.2" ry="26.5" fill="none" stroke="#2e2e2e" stroke-width="1" transform="rotate(-25 417.7 570.3)"/>
<path d="M408.2,545.7 L412.7,544.7 L413.4,545.2 L418.0,545.1 L418.8,546.5 L423.3,547.2 L424.1,549.4 L428.4,550.8 L429.0,553.8 L432.8,555.7 L433.0,559.3 L436.2,561.6 L435.9,565.6 L438.5,568.0 L437.6,572.2 L439.5,574.6 L437.8,578.7 L439.0,580.8 L436.6,584.7 L437.2,586.2 L434.1,589.7 L434.1,590.5 L430.5,593.3" fill="none" stroke="#2e2e2e" stroke-width="1.4"/>
<ellipse cx="414.5" cy="571.8" rx="19.6" ry="27" fill="#fff" stroke="#2e2e2e" stroke-width="1.7" transform="rotate(-25 414.5 571.8)"/>
<ellipse cx="414.5" cy="571.8" rx="18" ry="25.2" fill="none" stroke="#2e2e2e" stroke-width="1.3" transform="rotate(-25 414.5 571.8)"/>
<ellipse cx="414.5" cy="571.8" rx="18.8" ry="26.2" fill="none" stroke="#2e2e2e" stroke-width="3.1" transform="rotate(-25 414.5 571.8)"/>
<ellipse cx="414.5" cy="571.8" rx="16.2" ry="22.6" fill="none" stroke="#2e2e2e" stroke-width="3.6" transform="rotate(-25 414.5 571.8)"/>
<ellipse cx="414.5" cy="571.8" rx="12.6" ry="17.6" fill="none" stroke="#2e2e2e" stroke-width="1.9" transform="rotate(-25 414.5 571.8)"/>
<ellipse cx="414.5" cy="571.8" rx="9.6" ry="13.4" fill="none" stroke="#2e2e2e" stroke-width="1.6" transform="rotate(-25 414.5 571.8)"/>
<ellipse cx="414.5" cy="571.8" rx="4.2" ry="5.6" fill="#333" stroke="#2e2e2e" stroke-width="2.9" transform="rotate(-25 414.5 571.8)"/>
<path d="M419.0,569.6 L425.7,566.5 M419.8,572.4 L427.8,573.9 M419.5,575.1 L427.3,580.8 M418.2,577.1 L424.2,586.0 M416.2,578.1 L419.2,588.3 M413.9,577.7 L413.2,587.3 M411.6,576.2 L407.6,583.3 M410.0,573.9 L403.3,577.0 M409.2,571.1 L401.2,569.6 M409.5,568.4 L401.7,562.7 M410.8,566.4 L404.8,557.5 M412.8,565.4 L409.8,555.2 M415.1,565.8 L415.8,556.2 M417.4,567.3 L421.4,560.2" fill="none" stroke="#2e2e2e" stroke-width="1.8"/>
<path d="M436,563 L452,556" fill="none" stroke="#2e2e2e" stroke-width="1.1"/>
<circle cx="444.8" cy="559.3" r="1.9" fill="#222" stroke="#2e2e2e" stroke-width="0"/>
<ellipse cx="462.3" cy="552.6" rx="11.4" ry="22" fill="#fff" stroke="#2e2e2e" stroke-width="1.6" transform="rotate(-27 462.3 552.6)"/>
<ellipse cx="461.3" cy="553" rx="11.4" ry="22" fill="#fff" stroke="#2e2e2e" stroke-width="2.4" transform="rotate(-27 461.3 553)"/>
<ellipse cx="461.3" cy="553" rx="9.1" ry="18" fill="none" stroke="#2e2e2e" stroke-width="1.8" transform="rotate(-27 461.3 553)"/>
<path d="M453.5,537.7 L460.5,546.2 L466.4,544.4 L465.9,553.4 L472.3,563.0 L464.9,560.1 L462.9,567.7 L458.9,557.0 L451.4,552.1 L456.2,548.4Z" fill="none" stroke="#2e2e2e" stroke-width="2.4"/>
<path d="M455.8,542.2 L460.9,549.2 L464.9,547.0 L463.8,553.2 L469.0,560.0 L463.3,556.9 L462.5,563.4 L460.0,555.2 L454.3,552.4 L458.5,550.4Z" fill="none" stroke="#2e2e2e" stroke-width="1.7"/>
<path d="M460.5,546.2 L459.5,537.6 M465.9,553.4 L471.6,554.0 M464.9,560.1 L469.5,569.1 M458.9,557.0 L456.1,561.9 M456.2,548.4 L449.9,542.4" fill="none" stroke="#2e2e2e" stroke-width="1.8"/>
<path d="M478.9,539.3 L474.7,530.7 M478.9,539.3 L482.6,535.3 M478.9,539.3 L485.1,545.8 M478.9,539.3 L478.6,547.5 M478.9,539.3 L472.9,538.0 M478.9,539.3 L475.5,542.7" fill="none" stroke="#2e2e2e" stroke-width="3.1"/>
<path d="M477.9,538.6 l2.6,-0.8 l0.8,2.4 l-2.6,0.8Z" fill="#fff" stroke="#2e2e2e" stroke-width="0.8"/>
<ellipse cx="418.3" cy="640.2" rx="16.1" ry="20.7" fill="#fff" stroke="#2e2e2e" stroke-width="1.6" transform="rotate(-25 418.3 640.2)"/>
<ellipse cx="416" cy="641.3" rx="16.5" ry="21.2" fill="none" stroke="#2e2e2e" stroke-width="1" transform="rotate(-25 416 641.3)"/>
<path d="M408.5,621.6 L412.4,620.7 L412.9,621.1 L416.8,620.9 L417.5,622.0 L421.3,622.5 L421.9,624.3 L425.5,625.3 L425.9,627.7 L429.1,629.2 L429.2,632.1 L431.9,633.9 L431.5,637.1 L433.7,639.0 L432.8,642.5 L434.4,644.3 L432.8,647.7 L433.8,649.4 L431.7,652.6 L432.2,653.8 L429.5,656.7 L429.5,657.3 L426.3,659.7" fill="none" stroke="#2e2e2e" stroke-width="1.2"/>
<ellipse cx="413.2" cy="642.6" rx="16.8" ry="21.6" fill="#fff" stroke="#2e2e2e" stroke-width="1.7" transform="rotate(-25 413.2 642.6)"/>
<ellipse cx="413.2" cy="642.6" rx="15.4" ry="20" fill="none" stroke="#2e2e2e" stroke-width="1.3" transform="rotate(-25 413.2 642.6)"/>
<path d="M412.1,637.4 L411.7,629.7 Q418.4,633.1 417.4,635.8 M417.0,640.8 L423.1,639.3 Q423.6,647.3 420.9,646.6 M416.6,646.7 L420.8,653.4 Q414.5,655.1 413.7,651.9 M411.5,647.0 L408.0,652.6 Q403.5,645.6 405.8,644.4 M408.8,641.2 L402.4,638.0 Q406.0,632.0 408.1,634.4" fill="none" stroke="#2e2e2e" stroke-width="1.3"/>
<path d="M413.2,642.6 L416.1,641.2 M413.2,642.6 L416.0,644.7 M413.2,642.6 L413.1,646.1 M413.2,642.6 L410.3,644.0 M413.2,642.6 L410.4,640.5 M413.2,642.6 L413.3,639.1" fill="none" stroke="#2e2e2e" stroke-width="2.6"/>
<path d="M391,654.5 L413,643.5" fill="none" stroke="#2e2e2e" stroke-width="1.1"/>
<path d="M419,640.5 L450,626" fill="none" stroke="#2e2e2e" stroke-width="1.1"/>
<circle cx="444" cy="630.6" r="1.6" fill="#222" stroke="#2e2e2e" stroke-width="0"/>
<ellipse cx="458" cy="622.6" rx="9.2" ry="17.4" fill="#fff" stroke="#2e2e2e" stroke-width="1.6" transform="rotate(-27 458 622.6)"/>
<ellipse cx="457" cy="623" rx="9.2" ry="17.4" fill="#fff" stroke="#2e2e2e" stroke-width="2.4" transform="rotate(-27 457 623)"/>
<ellipse cx="457" cy="623" rx="7.4" ry="14.3" fill="none" stroke="#2e2e2e" stroke-width="1.8" transform="rotate(-27 457 623)"/>
<path d="M450.8,610.9 L456.4,617.6 L461.2,616.2 L460.7,623.3 L465.7,630.9 L459.8,628.6 L458.2,634.7 L455.1,626.2 L449.0,622.4 L453.0,619.4Z" fill="none" stroke="#2e2e2e" stroke-width="2.4"/>
<path d="M452.7,614.5 L456.7,620.0 L459.9,618.2 L459.0,623.2 L463.2,628.5 L458.6,626.1 L457.9,631.2 L455.9,624.8 L451.4,622.5 L454.8,621.0Z" fill="none" stroke="#2e2e2e" stroke-width="1.7"/>
<path d="M456.4,617.6 L455.6,610.8 M460.7,623.3 L465.2,623.8 M459.8,628.6 L463.5,635.7 M455.1,626.2 L452.8,630.1 M453.0,619.4 L447.9,614.7" fill="none" stroke="#2e2e2e" stroke-width="1.8"/>
<path d="M473.0,614.5 L469.5,607.2 M473.0,614.5 L476.1,611.1 M473.0,614.5 L478.3,620.0 M473.0,614.5 L472.8,621.4 M473.0,614.5 L467.9,613.4 M473.0,614.5 L470.1,617.4" fill="none" stroke="#2e2e2e" stroke-width="2.6"/>
<path d="M472.1,613.9 l2.6,-0.8 l0.8,2.4 l-2.6,0.8Z" fill="#fff" stroke="#2e2e2e" stroke-width="0.8"/>
<circle cx="391" cy="655" r="1.3" fill="#222" stroke="#2e2e2e" stroke-width="0"/>
<circle cx="396" cy="664" r="1.7" fill="#222" stroke="#2e2e2e" stroke-width="0"/>
<circle cx="392.5" cy="666" r="1" fill="#222" stroke="#2e2e2e" stroke-width="0"/>
<path d="M202.8,598 Q205,609 210,613.5 L213.5,613 Q219,607 221.8,592 Z" fill="#fff" stroke="#2e2e2e" stroke-width="1.2"/>
<ellipse cx="212.3" cy="595" rx="10.2" ry="6.8" fill="#fff" stroke="#2e2e2e" stroke-width="1.7" transform="rotate(-18 212.3 595)"/>
<ellipse cx="212.3" cy="595" rx="8.2" ry="5.2" fill="none" stroke="#2e2e2e" stroke-width="1.2" transform="rotate(-18 212.3 595)"/>
<path d="M205,604 Q212,606.5 220,600" fill="none" stroke="#2e2e2e" stroke-width="1.1"/>
<path d="M210,613.5 L210.5,620.5 L214.7,624 L213.8,628 L204.5,633" fill="none" stroke="#2e2e2e" stroke-width="3.1"/>
<path d="M210,613.5 L210.5,620.5 L214.7,624 L213.8,628 L204.5,633" fill="none" stroke="#fff" stroke-width="1.1"/>
<path d="M209.7,615.2 h3.4 M209.8,617 h3.4" fill="none" stroke="#2e2e2e" stroke-width="1.3"/>
<circle cx="229.2" cy="606" r="1" fill="#222" stroke="#2e2e2e" stroke-width="0"/>
<path d="M191,634 L203,631 L205,637 L193,640.4Z" fill="#fff" stroke="#2e2e2e" stroke-width="1.3"/>
<path d="M197.5,635.5 l3,-0.8 M196,637 l1.4,-0.3" fill="none" stroke="#2e2e2e" stroke-width="1.4"/>
<path d="M191.5,637 L173,640.4" fill="none" stroke="#2e2e2e" stroke-width="1.1"/>
<path d="M172,640.6 l3.4,-0.7" fill="none" stroke="#2e2e2e" stroke-width="2.6"/>
<path d="M205.3,633 l3,-1" fill="none" stroke="#2e2e2e" stroke-width="2.9"/>
<path d="M177.5,640 L184,658 L218,645 Q221.5,643 222,641 L233.5,668" fill="none" stroke="#2e2e2e" stroke-width="3.4"/>
<path d="M177.5,640 L184,658 L218,645 Q221.5,643 222,641 L233.5,668" fill="none" stroke="#fff" stroke-width="1.4"/>
<path d="M231.9,624.4 L225,627.5 L243.8,666.2" fill="none" stroke="#2e2e2e" stroke-width="1.1"/>
<path d="M250,616 L225.5,627.3" fill="none" stroke="#2e2e2e" stroke-width="0"/>
<path d="M285,598.8 L293,596.2 L301.2,612.5 L243,640.6 L243,645 L251.2,665" fill="none" stroke="#2e2e2e" stroke-width="1.1"/>
<path d="M260,598 L257.5,603 L257.5,608.75 L260,613.75 L265,616.25 L275,615 L278.75,612.5 L279.4,606.9 L283.75,605.6 L283.75,598.75 L281.25,596.25Z" fill="#fff" stroke="#2e2e2e" stroke-width="1.6"/>
<ellipse cx="271.9" cy="593.8" rx="10.6" ry="3.5" fill="#fff" stroke="#2e2e2e" stroke-width="2.4" transform="rotate(-3 271.9 593.8)"/>
<ellipse cx="271.9" cy="593.4" rx="8" ry="2.3" fill="none" stroke="#2e2e2e" stroke-width="1.4" transform="rotate(-3 271.9 593.4)"/>
<ellipse cx="271.9" cy="593.2" rx="4.5" ry="1.2" fill="none" stroke="#2e2e2e" stroke-width="1" transform="rotate(-3 271.9 593.2)"/>
<path d="M261.5,596.5 Q272,601 282,596.5 M260.5,600.5 L268,603.5 L279,601.5 M268,603.5 L268.5,615.5 M274.5,602.5 L275,614.5" fill="none" stroke="#2e2e2e" stroke-width="1.2"/>
<path d="M263,598.5 l3,1 l0,2.5 l-3,-1Z M276.5,599.5 l3.5,-0.8 l0,2.6 l-3.5,0.8Z" fill="#333" stroke="#2e2e2e" stroke-width="1"/>
<path d="M279.4,606.9 L279.4,601 M283.75,600 L281,598.5" fill="none" stroke="#2e2e2e" stroke-width="1.1"/>
<path d="M232,622.6 L259.5,610.5 M232.8,625 L260.5,612.8" fill="none" stroke="#2e2e2e" stroke-width="1.2"/>
<path d="M231.4,624 l2.8,-1.2" fill="none" stroke="#2e2e2e" stroke-width="3.4"/>
<ellipse cx="261.9" cy="609.4" rx="3.4" ry="3" fill="#fff" stroke="#2e2e2e" stroke-width="1.4"/>
<ellipse cx="262.6" cy="609" rx="1.8" ry="1.6" fill="none" stroke="#2e2e2e" stroke-width="1.1"/>
<path d="M281.3,585.5 l0.8,2 M287,592 l1.4,1.4" fill="none" stroke="#2e2e2e" stroke-width="2.2"/>
<path d="M217,663.8 L224,662.5 L228.5,674.5 L224.5,683 L217.5,684.6 L215.5,680" fill="none" stroke="#2e2e2e" stroke-width="1.3"/>
<path d="M217,663.8 L216,667 L221.5,678" fill="none" stroke="#2e2e2e" stroke-width="1.2"/>
<ellipse cx="220" cy="680.3" rx="3.1" ry="2.6" fill="#fff" stroke="#2e2e2e" stroke-width="1.4" transform="rotate(-20 220 680.3)"/>
<ellipse cx="220" cy="680.3" rx="1.5" ry="1.2" fill="none" stroke="#2e2e2e" stroke-width="1.1" transform="rotate(-20 220 680.3)"/>
<path d="M212.5,665.3 L217,663.8" fill="none" stroke="#2e2e2e" stroke-width="2.4"/>
<path d="M226.8,674.2 L260.5,660.5" fill="none" stroke="#2e2e2e" stroke-width="1.2"/>
<path d="M227.5,676.5 L261,663" fill="none" stroke="#2e2e2e" stroke-width="1.2"/>
<path d="M260.5,644.2 L263,641.8 L270.6,640.8 L271.5,643.5 L270,653.2 L263.9,658.9" fill="none" stroke="#2e2e2e" stroke-width="1.4"/>
<path d="M260.5,644.2 L262.5,657" fill="none" stroke="#2e2e2e" stroke-width="1.3"/>
<ellipse cx="261.8" cy="660.3" rx="3.2" ry="2.6" fill="#fff" stroke="#2e2e2e" stroke-width="1.4" transform="rotate(-20 261.8 660.3)"/>
<circle cx="266" cy="645" r="0.8" fill="#222" stroke="#2e2e2e" stroke-width="0"/>
<circle cx="267" cy="651.5" r="0.8" fill="#222" stroke="#2e2e2e" stroke-width="0"/>
<circle cx="256" cy="655" r="1.5" fill="#222" stroke="#2e2e2e" stroke-width="0"/>
<ellipse cx="278" cy="656.6" rx="3" ry="2.8" fill="#555" stroke="#2e2e2e" stroke-width="1.4"/>
<ellipse cx="287.5" cy="652" rx="2.3" ry="2" fill="none" stroke="#2e2e2e" stroke-width="1.4"/>
<path d="M285.25,644.25 L302.5,619.5 Q304.5,617.3 308.9,617.25 L373,642 Q380,645.5 382,648.75 L387.6,669" fill="none" stroke="#2e2e2e" stroke-width="3.6"/>
<path d="M285.25,644.25 L302.5,619.5 Q304.5,617.3 308.9,617.25 L373,642 Q380,645.5 382,648.75 L387.6,669" fill="none" stroke="#fff" stroke-width="1.4"/>
<ellipse cx="285.3" cy="644.3" rx="1.4" ry="1.4" fill="#fff" stroke="#2e2e2e" stroke-width="1.2"/>
<ellipse cx="298.8" cy="637.5" rx="2.2" ry="1.8" fill="#555" stroke="#2e2e2e" stroke-width="1.4" transform="rotate(-20 298.8 637.5)"/>
<path d="M293,640.5 L297,638.5" fill="none" stroke="#2e2e2e" stroke-width="1.9"/>
<path d="M387.6,669 L397.8,662.2" fill="none" stroke="#2e2e2e" stroke-width="2.6"/>
<ellipse cx="386.5" cy="669.3" rx="1.8" ry="1.5" fill="#fff" stroke="#2e2e2e" stroke-width="1.2"/>
<path d="M323,685.5 L391,656.4" fill="none" stroke="#2e2e2e" stroke-width="1.2"/>
<path d="M324,687.7 L392,658.7" fill="none" stroke="#2e2e2e" stroke-width="1.2"/>
<circle cx="323.5" cy="668.5" r="1" fill="#222" stroke="#2e2e2e" stroke-width="0"/>
<circle cx="329" cy="668.5" r="1" fill="#222" stroke="#2e2e2e" stroke-width="0"/>
<path d="M322.4,672.4 L331.4,674.5" fill="none" stroke="#2e2e2e" stroke-width="3.4"/>
<path d="M333,674 L340,676.5" fill="none" stroke="#2e2e2e" stroke-width="2.6"/>
<path d="M323.2,675 L323.2,699" fill="none" stroke="#2e2e2e" stroke-width="1.2"/>
<path d="M333.5,676 L333.5,700" fill="none" stroke="#2e2e2e" stroke-width="1.2"/>
<path d="M324.6,688 Q326,682 332.5,680.25 L337,682.5 Q336.5,690 333,696" fill="#fff" stroke="#2e2e2e" stroke-width="1.3"/>
<ellipse cx="331" cy="685.5" rx="1.5" ry="1.5" fill="none" stroke="#2e2e2e" stroke-width="1.1"/>
<path d="M324.4,703.6 L335.4,701.6 L335.4,711 L325.8,713Z" fill="none" stroke="#2e2e2e" stroke-width="1.3"/>
<path d="M324.4,703.6 L335.4,701.6" fill="none" stroke="#2e2e2e" stroke-width="2.4"/>
<path d="M327,716.5 L327,730" fill="none" stroke="#2e2e2e" stroke-width="2.6"/>
<path d="M332.6,716.5 L332.6,730" fill="none" stroke="#2e2e2e" stroke-width="2.6"/>
<circle cx="357.7" cy="653.2" r="1" fill="#222" stroke="#2e2e2e" stroke-width="0"/>
<circle cx="362.2" cy="653.2" r="1" fill="#222" stroke="#2e2e2e" stroke-width="0"/>
<path d="M356,659.5 L364,659.5" fill="none" stroke="#2e2e2e" stroke-width="3.6"/>
<path d="M348.25,665.6 L355,667.2" fill="none" stroke="#2e2e2e" stroke-width="2.6"/>
<path d="M358.4,662 L358.4,697" fill="none" stroke="#2e2e2e" stroke-width="1.2"/>
<path d="M364,662 L364,697" fill="none" stroke="#2e2e2e" stroke-width="1.2"/>
<path d="M358.8,699.5 L368.4,697.8 L368.4,707 L358.8,708.5Z" fill="none" stroke="#2e2e2e" stroke-width="1.3"/>
<path d="M358.8,699.5 L368.4,697.8" fill="none" stroke="#2e2e2e" stroke-width="2.4"/>
<path d="M361.5,712 L361.5,725" fill="none" stroke="#2e2e2e" stroke-width="2.6"/>
<path d="M367,712 L367,725" fill="none" stroke="#2e2e2e" stroke-width="2.6"/>
<path d="M366.25,669 L373,661 Q375.5,659.3 377.5,660 L375.25,665.6 L370.75,677 L366.25,678Z" fill="#fff" stroke="#2e2e2e" stroke-width="1.4"/>
<ellipse cx="368.3" cy="674" rx="1.4" ry="1.4" fill="none" stroke="#2e2e2e" stroke-width="1.1"/>
<circle cx="364.3" cy="682.8" r="1.7" fill="#222" stroke="#2e2e2e" stroke-width="0"/>
<circle cx="367.5" cy="688.5" r="1.4" fill="#222" stroke="#2e2e2e" stroke-width="0"/>
</svg>
</body>
</html>
